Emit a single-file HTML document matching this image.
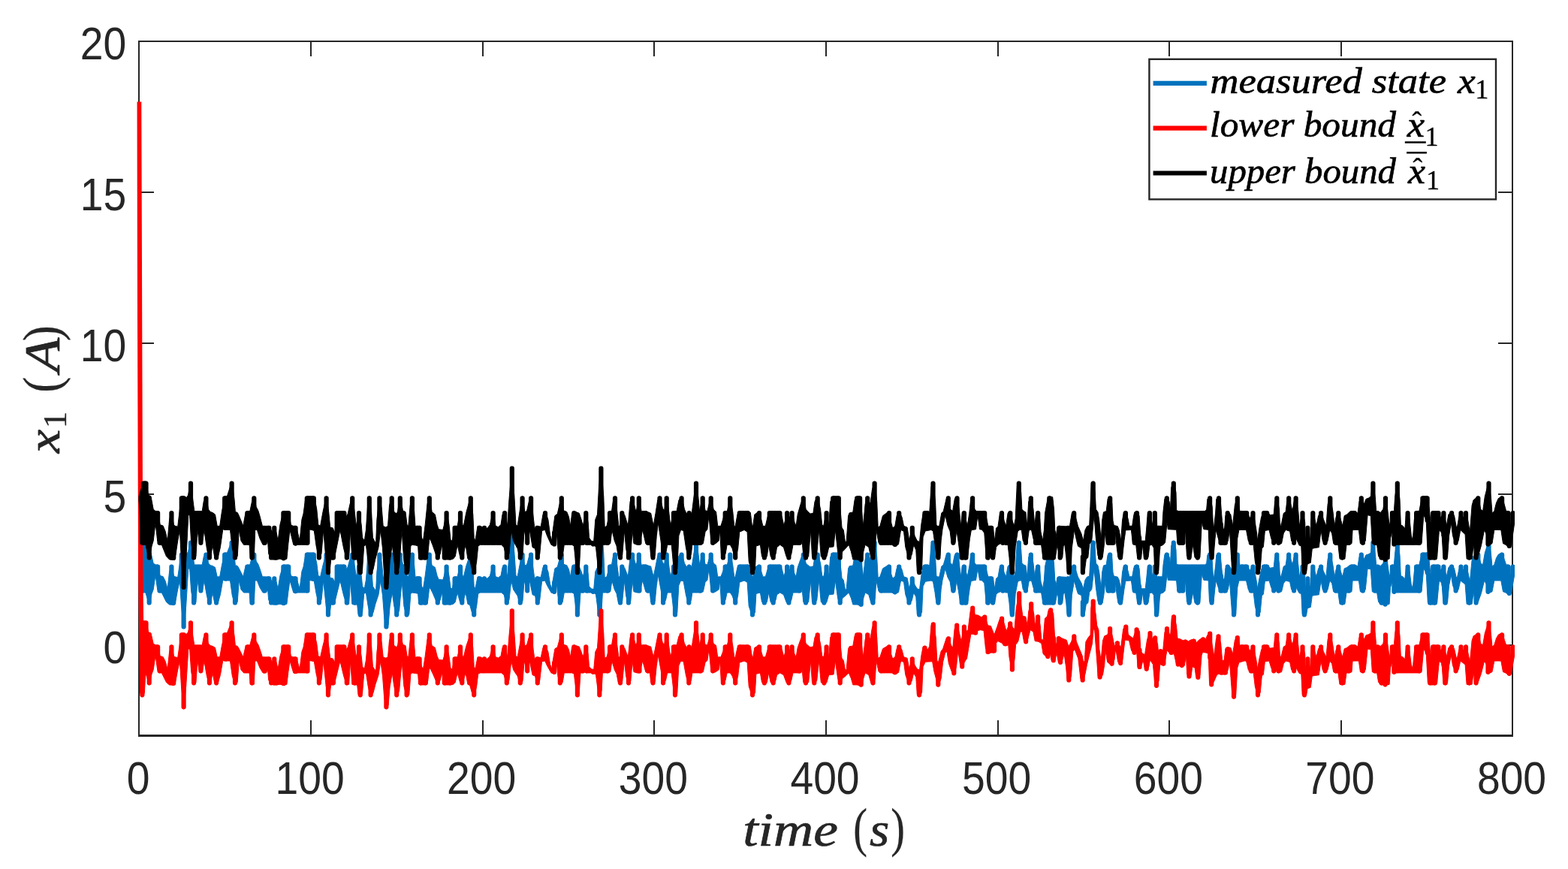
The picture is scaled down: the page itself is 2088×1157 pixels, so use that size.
<!DOCTYPE html>
<html><head><meta charset="utf-8"><title>plot</title>
<style>html,body{margin:0;padding:0;background:#fff;overflow:hidden}svg{display:block}</style></head>
<body>
<svg width="2088" height="1157" viewBox="0 0 2088 1157">
<rect x="0" y="0" width="2088" height="1157" fill="#ffffff"/>
<defs><clipPath id="axclip"><rect x="182.5" y="55.0" width="1834.5" height="924.5"/></clipPath></defs>
<g fill="#262626" shape-rendering="crispEdges">
<rect x="184" y="54" width="1831" height="2"/>
<rect x="184" y="978" width="1831" height="3"/>
<rect x="184" y="54" width="2" height="927"/>
<rect x="2013" y="54" width="2" height="927"/>
<rect x="413" y="959" width="2" height="20"/>
<rect x="413" y="55" width="2" height="20"/>
<rect x="642" y="959" width="2" height="20"/>
<rect x="642" y="55" width="2" height="20"/>
<rect x="870" y="959" width="2" height="20"/>
<rect x="870" y="55" width="2" height="20"/>
<rect x="1099" y="959" width="2" height="20"/>
<rect x="1099" y="55" width="2" height="20"/>
<rect x="1328" y="959" width="2" height="20"/>
<rect x="1328" y="55" width="2" height="20"/>
<rect x="1556" y="959" width="2" height="20"/>
<rect x="1556" y="55" width="2" height="20"/>
<rect x="1785" y="959" width="2" height="20"/>
<rect x="1785" y="55" width="2" height="20"/>
<rect x="185" y="858" width="20" height="2"/>
<rect x="1995" y="858" width="19" height="2"/>
<rect x="185" y="657" width="20" height="2"/>
<rect x="1995" y="657" width="19" height="2"/>
<rect x="185" y="456" width="20" height="2"/>
<rect x="1995" y="456" width="19" height="2"/>
<rect x="185" y="255" width="20" height="2"/>
<rect x="1995" y="255" width="19" height="2"/>
</g>
<g clip-path="url(#axclip)">
<polygon points="185.0,735.9 191.1,719.9 194.5,719.9 197.7,734.7 201.0,735.8 204.2,749.9 207.0,751.9 210.1,751.9 213.2,766.5 217.1,767.6 220.1,773.4 223.1,783.8 225.6,761.0 228.4,751.9 231.4,766.5 233.2,767.8 236.7,768.6 239.4,749.9 241.8,735.9 245.0,735.9 247.7,738.2 250.5,734.7 254.0,719.9 256.7,738.9 258.8,751.9 261.6,751.9 265.0,751.9 266.4,751.9 269.2,752.0 271.2,741.6 274.4,735.9 277.5,749.9 280.2,752.7 283.0,753.4 286.5,755.5 289.2,767.9 292.7,767.8 295.4,752.7 299.2,735.9 302.4,735.9 305.1,729.2 308.6,719.9 312.0,738.9 313.4,752.7 316.2,753.4 318.3,756.9 323.8,767.8 326.6,755.5 329.3,751.9 332.8,751.9 335.5,741.6 338.3,735.9 341.1,747.2 343.8,751.3 345.9,756.9 349.4,767.8 354.2,767.9 358.3,767.8 361.1,772.1 362.5,774.8 365.3,767.8 368.0,774.8 370.1,783.8 372.9,766.5 377.4,751.9 380.2,751.9 384.2,751.9 387.4,766.5 390.1,767.8 393.6,767.8 396.4,774.8 399.1,783.8 401.9,761.0 404.0,754.8 406.7,738.9 408.8,735.9 413.0,735.9 417.8,735.9 419.0,737.8 421.8,749.9 423.8,766.5 426.6,767.8 430.0,752.7 434.6,735.9 437.7,752.7 439.7,769.3 443.2,770.0 445.7,774.8 448.7,751.9 458.4,751.9 460.0,759.6 463.2,754.8 466.0,744.4 469.2,735.9 472.2,752.7 474.3,767.8 478.0,751.9 481.2,766.5 482.6,780.4 485.3,783.8 487.4,772.1 489.5,747.2 491.8,735.9 494.6,752.7 496.4,780.4 498.5,783.8 500.6,786.6 501.9,761.0 505.4,735.9 508.4,749.9 510.2,767.9 513.7,769.3 516.5,767.8 518.5,745.8 521.7,735.9 524.8,752.7 528.2,754.8 529.6,751.9 532.8,735.9 536.5,751.3 540.0,752.7 542.0,766.5 543.8,767.8 546.2,745.8 548.9,735.9 551.7,752.7 553.1,769.3 555.2,767.8 558.6,767.8 561.4,780.4 563.5,783.8 566.2,766.5 569.0,744.4 571.8,735.9 575.2,752.7 579.4,755.5 582.1,766.5 584.2,771.4 589.7,772.1 591.1,767.8 594.6,751.9 598.0,766.5 600.1,783.1 602.2,783.8 605.6,767.8 609.1,767.8 613.0,751.9 616.0,766.5 617.4,767.8 620.8,753.4 626.8,735.9 629.8,755.5 631.2,780.4 632.9,783.8 636.0,767.9 638.8,767.8 642.3,769.3 645.0,767.8 647.8,770.7 650.0,769.3 652.4,766.5 656.6,751.9 660.0,767.8 663.5,769.0 667.0,766.5 669.0,755.5 672.1,751.9 675.7,767.8 678.0,738.9 681.8,703.9 684.9,736.1 687.0,766.5 689.1,767.8 692.5,749.9 695.6,735.9 698.8,752.7 701.5,751.9 704.3,741.6 707.1,735.9 709.8,755.5 711.9,770.7 715.3,767.8 720.2,768.6 723.0,755.5 726.0,751.9 729.9,761.0 732.6,777.6 734.7,783.8 736.8,769.3 738.9,756.9 742.3,754.8 745.1,744.4 747.8,735.9 750.6,751.3 754.8,752.7 757.5,758.2 759.6,767.8 761.7,754.1 764.4,751.9 771.3,754.1 774.1,761.0 776.2,767.8 780.3,751.9 783.1,763.8 784.5,780.4 787.2,783.8 790.7,784.5 792.8,761.0 795.5,755.5 797.6,725.1 800.4,703.9 803.8,736.1 805.2,769.3 808.0,767.8 812.1,751.9 814.5,751.9 816.3,741.6 819.0,735.9 821.8,752.7 823.9,767.9 825.3,767.8 828.3,751.9 832.2,756.9 836.3,767.8 839.1,741.6 842.1,735.9 846.0,749.9 847.4,751.9 850.8,735.9 854.3,752.7 856.4,751.9 859.8,751.9 866.7,754.1 870.2,767.8 873.0,754.1 875.7,740.3 878.5,735.9 882.4,748.6 884.5,751.9 887.7,735.9 890.7,752.7 892.8,767.8 897.0,751.9 901.1,751.9 903.9,740.3 907.6,735.9 911.5,749.9 914.2,754.8 917.7,751.9 921.2,754.8 923.6,738.9 927.0,719.9 930.1,738.9 931.5,751.9 935.7,735.9 939.1,751.3 941.9,751.9 946.7,735.9 950.2,749.9 953.6,752.7 955.7,767.9 959.9,767.8 962.6,761.0 965.7,751.9 968.4,751.9 972.3,735.9 975.8,752.7 977.8,768.6 979.2,767.8 982.0,755.5 984.8,751.9 991.7,751.9 995.8,751.9 999.3,753.4 1001.3,766.5 1002.7,767.8 1004.8,755.5 1011.0,751.9 1013.8,761.0 1015.9,767.9 1019.3,767.8 1022.1,758.2 1024.8,751.9 1028.0,751.9 1031.1,751.9 1034.5,751.9 1038.4,751.9 1041.4,758.2 1043.9,767.8 1048.1,751.9 1051.1,759.6 1054.6,751.9 1058.0,763.8 1060.1,767.8 1062.2,755.5 1065.6,745.8 1069.8,735.9 1073.2,749.9 1075.3,751.9 1078.8,754.8 1082.9,754.1 1085.0,741.6 1088.7,735.9 1092.6,749.9 1094.7,766.5 1096.7,767.8 1100.6,751.9 1103.7,767.8 1105.7,741.6 1109.2,735.9 1113.2,735.9 1116.8,735.9 1119.4,753.8 1121.0,769.4 1123.3,772.5 1125.7,786.5 1127.2,783.8 1129.6,756.9 1131.1,753.8 1135.8,753.0 1138.1,739.8 1141.2,735.9 1145.1,735.9 1147.4,750.7 1149.5,767.8 1152.1,744.5 1155.2,735.9 1158.8,744.5 1161.4,728.9 1164.6,719.9 1167.7,741.4 1169.2,769.4 1171.9,767.8 1175.5,756.9 1179.3,754.6 1184.0,751.9 1186.3,763.1 1188.7,770.1 1191.8,767.8 1194.1,756.9 1197.2,751.9 1201.1,758.5 1203.5,767.8 1208.1,769.4 1210.8,783.8 1214.8,767.8 1218.2,778.7 1221.3,783.8 1224.5,784.9 1226.8,766.3 1229.1,754.6 1231.5,751.9 1235.0,751.9 1237.7,753.8 1240.0,725.8 1242.5,719.9 1245.6,741.8 1246.9,767.1 1248.5,767.8 1250.7,768.2 1253.8,754.0 1256.3,752.0 1260.1,738.8 1262.8,735.9 1265.7,749.9 1268.6,751.9 1271.3,738.8 1274.5,735.9 1277.3,749.9 1279.5,767.8 1281.4,753.0 1283.9,751.9 1286.6,762.1 1288.2,767.8 1290.8,754.0 1292.6,739.8 1295.1,735.9 1297.9,749.9 1300.2,751.9 1305.2,751.9 1307.7,751.9 1311.2,751.9 1313.9,760.1 1315.8,767.8 1318.3,767.8 1320.2,767.8 1322.7,772.2 1324.6,783.8 1326.5,770.2 1329.0,768.2 1331.5,754.0 1334.0,751.9 1337.1,762.1 1339.6,767.8 1342.1,754.0 1345.3,751.9 1348.0,762.1 1350.3,767.8 1352.2,760.1 1353.4,737.8 1354.7,721.6 1356.8,719.9 1359.7,731.7 1360.9,749.9 1363.4,752.0 1365.9,753.0 1367.8,767.8 1369.7,741.8 1372.8,735.9 1376.0,749.9 1377.8,767.8 1379.7,753.0 1382.2,751.9 1384.7,760.1 1386.0,774.2 1388.5,783.8 1390.4,772.2 1391.6,754.0 1394.8,739.8 1397.3,735.9 1401.7,736.8 1403.5,749.9 1404.8,772.2 1405.4,783.8 1407.9,769.2 1410.4,767.8 1420.5,768.4 1422.3,767.8 1424.2,769.2 1427.3,754.0 1430.2,751.9 1433.6,762.1 1435.5,768.2 1440.0,776.3 1442.5,783.8 1445.0,772.2 1447.5,768.2 1450.7,767.1 1451.9,746.9 1453.2,721.6 1455.7,719.9 1458.2,731.7 1459.4,749.9 1462.0,753.0 1463.8,762.1 1466.3,783.8 1467.6,762.1 1469.5,753.0 1473.2,752.0 1475.1,738.8 1478.2,735.9 1480.8,743.9 1482.0,762.1 1483.3,767.1 1488.3,768.2 1490.2,772.2 1492.7,783.8 1494.5,762.1 1496.4,753.0 1498.9,751.9 1502.1,760.1 1503.9,767.8 1507.7,767.8 1509.6,757.0 1510.8,753.0 1514.0,751.9 1517.1,757.0 1518.3,772.2 1519.6,783.8 1525.2,783.8 1526.5,772.2 1528.4,754.0 1530.9,751.9 1534.0,767.8 1537.8,751.9 1540.3,757.0 1540.9,772.2 1542.2,767.8 1544.7,767.8 1547.8,767.8 1549.0,752.0 1550.9,738.8 1553.8,735.9 1557.2,741.8 1558.4,751.9 1559.7,726.7 1562.8,719.9 1566.0,731.7 1566.6,751.0 1569.1,751.9 1580.4,751.9 1582.3,751.9 1585.4,751.9 1591.7,751.9 1594.2,751.9 1596.7,751.9 1604.8,751.9 1606.7,749.9 1607.9,738.8 1611.1,735.9 1614.2,746.9 1615.5,768.2 1616.7,767.8 1618.6,754.0 1619.8,738.8 1623.0,735.9 1625.5,743.9 1627.4,762.1 1630.0,776.3 1631.9,756.9 1634.7,751.9 1638.8,755.5 1641.6,767.8 1644.3,745.8 1647.8,735.9 1651.2,752.7 1653.3,751.9 1656.8,751.9 1660.2,751.9 1664.4,759.6 1668.5,751.9 1671.3,763.8 1673.4,774.8 1674.5,783.8 1676.8,770.7 1679.6,758.2 1683.0,751.9 1687.2,751.9 1691.3,756.2 1696.2,755.5 1697.6,741.6 1700.3,735.9 1703.5,749.9 1704.5,767.9 1705.9,767.8 1709.3,754.1 1712.1,752.7 1713.5,743.0 1716.2,735.9 1721.1,751.9 1723.1,741.6 1725.6,735.9 1728.9,752.7 1730.3,767.8 1734.5,751.9 1737.7,763.8 1738.3,783.8 1741.4,767.8 1744.6,783.8 1746.0,761.0 1748.3,751.9 1752.9,767.8 1755.6,756.9 1759.1,751.9 1762.5,761.0 1766.0,767.8 1768.1,744.4 1771.3,735.9 1775.0,752.7 1777.1,767.8 1779.1,758.2 1782.3,751.9 1785.4,761.0 1787.8,767.8 1790.2,756.9 1793.7,755.5 1797.1,752.7 1800.0,751.9 1803.8,751.9 1808.0,754.1 1810.0,741.6 1812.8,735.9 1816.3,744.4 1819.0,738.9 1822.5,737.8 1825.3,736.1 1828.4,719.9 1831.5,738.9 1832.9,755.5 1834.2,751.9 1838.4,753.4 1841.8,749.9 1845.0,735.9 1848.1,752.7 1850.1,767.8 1853.9,751.9 1856.4,751.9 1857.7,736.1 1860.8,719.9 1864.0,738.9 1865.3,766.5 1868.1,767.8 1870.9,770.7 1872.3,756.9 1874.6,751.9 1877.1,761.0 1879.2,777.6 1881.2,783.8 1883.3,761.0 1886.1,751.9 1889.8,751.9 1892.3,741.6 1894.4,735.9 1900.6,735.9 1903.4,749.9 1905.4,767.8 1908.2,751.9 1911.7,751.9 1915.5,751.9 1918.6,759.6 1922.4,751.9 1926.2,767.8 1928.9,755.5 1933.1,751.9 1936.6,756.9 1939.3,769.3 1940.7,767.8 1942.8,758.2 1945.5,751.9 1948.3,759.6 1952.0,751.9 1955.2,763.8 1957.3,774.8 1960.1,745.8 1962.1,740.0 1968.3,735.9 1971.8,749.9 1974.6,751.9 1977.3,736.1 1982.5,719.9 1985.6,738.9 1987.0,754.1 1989.8,751.9 1992.5,743.0 1995.3,738.2 2000.1,735.9 2003.6,745.8 2005.7,751.9 2008.4,751.9 2011.2,767.8 2014.7,751.9 2016.7,758.9 2016.7,765.5 2012.6,789.0 2009.8,792.5 2005.0,789.0 2001.5,787.7 1998.8,773.0 1994.6,773.0 1989.8,773.0 1987.0,787.7 1984.2,789.0 1981.5,790.4 1980.1,779.4 1976.6,773.0 1972.5,789.7 1968.3,801.5 1965.6,805.0 1962.1,789.0 1960.1,804.2 1956.6,805.0 1953.1,804.2 1951.1,778.0 1944.8,773.0 1942.1,784.9 1938.6,789.0 1934.5,779.4 1932.4,765.5 1929.6,779.4 1927.6,801.5 1924.8,805.0 1922.0,804.2 1920.0,776.6 1916.5,773.0 1913.7,801.5 1911.0,805.0 1906.8,805.0 1904.1,805.0 1901.3,801.5 1899.2,762.8 1895.8,757.1 1893.0,787.7 1890.2,789.0 1885.4,789.0 1877.1,789.0 1870.2,789.0 1866.0,789.0 1863.3,789.0 1861.2,789.0 1858.4,789.0 1856.4,790.4 1854.3,773.0 1851.5,782.1 1850.1,804.2 1847.0,805.0 1844.6,807.0 1842.5,805.0 1839.5,805.0 1835.6,801.5 1833.6,789.0 1830.8,789.0 1827.3,787.7 1825.3,757.9 1821.1,757.1 1818.3,784.9 1814.9,789.0 1811.4,787.7 1809.4,773.0 1806.6,773.0 1801.1,773.0 1800.0,787.7 1796.4,789.0 1793.0,789.0 1790.9,804.2 1787.4,805.0 1784.0,804.2 1781.9,789.0 1778.7,789.0 1775.7,787.7 1773.6,776.6 1770.8,773.0 1768.1,784.9 1764.6,789.0 1761.2,784.9 1759.1,773.0 1756.3,791.8 1750.8,792.5 1747.3,793.2 1745.3,808.4 1741.1,809.8 1739.7,818.1 1737.0,821.0 1734.2,818.1 1732.8,790.4 1730.1,789.7 1725.9,782.1 1723.1,789.0 1719.7,784.9 1717.6,774.5 1712.1,773.0 1709.3,776.6 1706.6,787.7 1702.4,789.0 1698.5,782.1 1696.2,789.0 1692.7,782.1 1690.0,773.0 1684.4,773.8 1682.4,791.1 1680.3,793.2 1678.2,815.3 1675.0,821.0 1671.3,807.0 1669.2,789.0 1665.8,789.0 1662.3,784.9 1659.5,773.0 1656.8,773.0 1649.9,773.0 1647.8,782.1 1645.7,818.1 1643.0,821.0 1640.9,818.1 1639.5,801.5 1637.4,773.0 1635.3,784.9 1631.9,789.0 1630.0,789.0 1625.5,789.0 1622.4,782.5 1619.2,773.0 1618.0,782.5 1616.1,800.7 1613.6,805.0 1610.5,800.7 1609.2,772.9 1602.9,772.4 1600.4,764.3 1597.9,802.8 1594.8,805.0 1591.0,802.8 1588.5,789.0 1586.0,802.8 1583.5,805.0 1580.4,800.7 1578.5,773.0 1575.4,789.0 1570.4,789.0 1567.8,786.6 1566.6,772.9 1555.3,772.4 1554.1,764.3 1551.6,786.6 1549.0,789.1 1544.7,790.6 1542.8,816.9 1540.0,821.0 1537.8,818.0 1536.5,792.6 1534.0,789.0 1530.9,789.6 1529.0,802.8 1525.9,805.0 1523.4,802.8 1521.5,789.0 1519.6,802.8 1517.1,805.0 1514.6,802.8 1512.7,789.0 1510.8,789.0 1508.3,786.6 1506.4,773.0 1498.9,773.4 1497.0,784.5 1494.5,802.8 1492.0,805.0 1488.9,802.8 1487.0,790.6 1485.1,773.0 1482.6,789.0 1475.7,789.0 1473.2,786.6 1472.0,773.0 1470.1,790.6 1468.2,802.8 1465.1,805.0 1462.0,800.7 1459.4,782.5 1456.9,757.1 1453.8,784.5 1450.7,788.6 1448.8,802.8 1446.3,804.8 1444.4,816.9 1441.9,821.0 1440.0,792.6 1435.5,790.6 1433.6,784.5 1430.5,773.0 1427.3,792.6 1426.1,816.9 1423.6,821.0 1421.1,818.0 1419.8,802.8 1417.9,789.0 1416.1,790.6 1414.8,802.8 1411.7,805.0 1407.9,789.0 1405.4,802.8 1402.9,805.0 1396.6,805.0 1391.0,805.0 1388.5,800.7 1386.6,789.0 1384.1,789.0 1379.1,789.0 1376.0,782.5 1373.5,773.0 1370.3,773.4 1368.4,784.5 1365.9,789.0 1362.2,784.5 1360.3,773.0 1357.8,773.0 1355.3,774.4 1352.2,790.6 1350.3,816.9 1347.8,821.0 1345.3,818.0 1344.0,802.8 1342.1,789.0 1339.6,789.0 1337.1,788.6 1335.2,789.0 1332.7,787.6 1329.0,789.1 1326.5,791.6 1324.6,802.8 1322.1,805.0 1319.6,797.7 1317.7,804.8 1315.2,805.0 1312.7,796.7 1310.8,776.4 1307.7,772.9 1304.5,772.4 1302.0,757.1 1299.5,772.4 1296.4,772.9 1293.3,773.4 1291.4,782.5 1288.9,800.7 1286.4,805.0 1283.9,805.0 1280.7,805.0 1278.8,802.8 1276.3,786.6 1273.8,773.0 1272.0,786.6 1269.4,789.0 1266.9,786.6 1265.1,774.4 1261.9,768.4 1258.8,757.1 1255.0,772.4 1253.2,784.5 1251.9,800.7 1249.4,805.0 1246.9,802.8 1245.0,788.6 1242.5,774.4 1240.0,773.0 1232.2,774.3 1229.1,780.8 1227.6,815.0 1224.1,821.0 1221.3,818.1 1219.8,794.8 1216.7,789.0 1214.3,799.5 1210.5,805.0 1205.8,791.7 1203.5,774.6 1199.6,773.0 1196.5,788.6 1191.8,790.9 1187.4,789.0 1184.8,789.0 1180.9,789.0 1177.0,789.0 1173.1,789.0 1170.0,787.0 1166.9,773.0 1165.3,796.4 1162.5,805.0 1159.9,802.6 1156.8,791.7 1152.1,789.0 1149.8,796.4 1146.7,807.3 1142.0,805.0 1135.8,804.9 1133.4,796.4 1130.3,789.0 1124.9,794.0 1121.8,796.4 1118.7,805.0 1115.6,796.4 1112.4,773.0 1110.0,791.1 1103.7,791.8 1100.9,801.5 1097.4,805.0 1093.3,801.5 1090.5,773.0 1087.8,798.7 1084.3,805.0 1081.5,801.5 1079.5,773.0 1076.7,801.5 1073.0,805.0 1069.8,801.5 1067.0,773.0 1064.9,789.0 1060.1,789.0 1056.0,789.0 1053.9,798.7 1050.4,805.0 1047.0,801.5 1043.5,791.8 1038.7,789.0 1034.5,791.8 1033.1,798.7 1029.7,805.0 1026.2,801.5 1023.5,789.0 1021.4,801.5 1017.9,805.0 1014.5,801.5 1012.4,789.0 1006.9,790.4 1005.5,815.3 1002.0,821.0 997.2,807.0 995.1,775.2 991.0,773.0 988.9,773.8 984.8,775.2 982.7,793.2 979.2,805.0 975.1,793.2 972.3,789.0 968.2,789.0 966.1,798.7 962.9,805.0 960.6,801.5 958.5,773.1 957.1,784.9 953.0,787.7 949.1,789.0 946.7,784.9 944.0,757.1 941.9,772.4 939.1,775.2 936.4,787.7 932.9,789.0 925.3,789.0 921.8,789.0 920.5,798.7 917.3,805.0 913.6,793.2 910.1,773.8 906.6,773.0 903.9,779.4 901.8,815.3 899.0,821.0 896.3,807.0 894.2,789.0 890.7,789.0 888.7,789.0 886.6,798.7 883.1,805.0 880.0,784.9 876.4,765.5 874.3,779.4 872.3,800.1 869.5,805.0 866.7,801.5 865.4,789.0 862.6,789.0 859.8,787.7 855.7,773.0 851.5,789.0 848.1,789.0 843.9,787.7 842.1,773.0 839.8,800.1 837.0,805.0 833.6,793.2 831.5,773.0 828.7,800.1 826.0,805.0 823.2,801.5 821.1,790.4 818.3,784.9 814.9,773.0 812.8,787.7 809.4,789.0 806.6,789.0 805.2,789.0 802.4,789.0 801.1,812.5 798.3,821.0 795.5,807.0 793.5,791.8 791.4,789.0 790.0,790.4 786.6,789.0 781.0,789.0 779.6,787.7 776.2,789.0 773.0,789.0 771.3,815.3 768.9,821.0 766.5,807.0 764.4,790.4 761.7,789.0 757.5,789.0 754.8,789.0 751.3,789.0 749.2,801.5 745.8,805.0 743.0,793.2 740.9,773.0 738.2,790.4 734.0,789.0 728.5,779.4 725.7,773.0 721.6,773.8 718.8,798.7 715.8,805.0 712.6,793.2 709.1,791.8 705.3,773.0 702.2,789.0 698.1,773.0 696.0,800.1 692.8,805.0 689.1,793.2 686.3,789.0 683.6,784.9 680.8,773.0 678.0,798.7 674.8,805.0 671.1,791.8 667.7,789.0 660.7,789.0 653.8,789.0 650.0,789.0 647.1,789.0 643.7,789.0 639.5,789.0 636.7,790.4 634.7,807.0 631.2,821.0 628.4,815.3 625.7,805.6 622.9,804.2 620.1,789.0 618.8,793.2 615.3,805.0 612.5,801.5 609.1,789.0 606.3,801.5 603.6,804.2 599.4,805.0 595.3,805.0 591.8,805.0 588.3,789.0 586.3,798.7 582.8,805.0 580.1,798.7 575.9,789.0 573.8,784.9 571.8,782.1 569.7,800.1 566.9,805.0 563.5,805.0 560.0,805.0 557.9,804.2 556.6,790.4 553.8,789.7 548.9,789.0 546.9,790.4 544.8,818.1 541.6,821.0 537.9,807.0 535.1,773.0 531.7,812.5 528.2,821.0 524.8,807.0 522.3,789.0 519.2,807.0 517.1,831.9 514.4,837.0 511.6,820.8 509.5,793.2 506.8,773.0 504.0,791.8 499.9,804.2 497.1,815.3 493.6,821.0 490.2,807.0 487.4,789.0 484.7,790.4 482.6,815.3 479.8,821.0 477.1,818.1 475.7,805.0 472.2,805.0 468.8,804.2 466.7,773.0 464.6,804.2 461.8,805.0 457.7,793.2 452.9,773.0 446.6,798.7 443.9,805.0 440.7,805.0 439.3,815.3 437.0,821.0 434.2,807.0 430.7,773.0 428.0,798.7 424.9,805.0 421.1,790.4 418.3,773.8 415.0,773.0 410.9,772.4 409.5,789.0 406.0,789.0 401.2,789.0 395.7,789.0 393.6,789.7 390.8,789.0 386.0,773.0 383.9,787.7 381.9,804.2 379.5,805.0 377.7,805.6 375.6,805.0 372.9,804.2 368.0,805.0 364.6,805.0 363.2,802.9 361.1,805.0 357.7,798.7 355.6,773.1 352.8,789.0 350.1,789.0 345.9,782.1 342.4,773.0 339.7,773.0 338.3,804.2 335.5,805.0 333.5,804.2 332.1,789.0 328.6,789.0 324.5,789.0 321.0,784.9 318.3,773.0 316.2,801.5 313.0,805.0 309.3,793.2 306.5,773.0 303.7,773.0 300.3,773.0 296.8,772.4 293.4,791.8 290.6,801.5 288.1,805.0 285.8,802.9 283.0,789.0 280.9,801.5 278.9,805.0 275.4,793.2 271.9,773.0 269.9,784.9 267.4,789.0 265.0,784.9 263.0,773.0 260.9,801.5 258.1,805.0 254.7,787.7 252.6,757.1 250.8,757.1 247.7,807.0 244.6,837.0 241.5,807.0 239.4,773.0 236.7,784.9 233.9,800.1 231.2,805.4 225.6,805.0 221.5,801.5 215.3,789.0 212.5,789.0 209.7,784.9 207.0,765.5 204.2,784.9 202.1,790.4 198.7,805.0 193.8,789.0 192.4,789.0 189.4,789.0 185.0,741.1" fill="#0072BD" stroke="#0072BD" stroke-width="1.0" stroke-linejoin="round"/><path d="M191.1 722.5V754.5M194.5 722.5V755.6M210.1 754.5V768.7M228.4 754.5V778.5M241.8 738.5V772.8M245.0 738.5V784.5M254.0 722.5V748.7M274.4 738.5V761.7M299.2 738.5V754.4M308.6 722.5V754.0M329.3 754.5V770.4M338.3 738.5V770.1M358.3 770.4V783.9M365.3 770.4V786.4M377.4 754.5V778.7M384.2 754.5V768.8M393.6 770.4V778.8M408.8 738.5V762.5M417.8 738.5V754.8M434.6 738.5V772.5M448.7 754.5V771.0M458.4 754.5V773.5M469.2 738.5V770.1M478.0 754.5V785.5M491.8 738.5V774.8M505.4 738.5V759.1M521.7 738.5V764.1M532.8 738.5V767.9M548.9 738.5V762.4M555.2 770.4V779.0M558.6 770.4V786.2M571.8 738.5V759.0M594.6 754.5V778.4M605.6 770.4V785.0M613.0 754.5V776.9M626.8 738.5V772.7M638.8 770.4V778.6M645.0 770.4V778.4M656.6 754.5V770.4M672.1 754.5V773.5M681.8 706.5V740.5M695.6 738.5V768.3M707.1 738.5V758.8M715.3 770.4V785.6M726.0 754.5V762.8M747.8 738.5V769.4M764.4 754.5V771.1M780.3 754.5V770.1M800.4 706.5V759.3M812.1 754.5V769.9M819.0 738.5V761.1M828.3 754.5V776.3M842.1 738.5V754.5M850.8 738.5V762.5M856.4 754.5V763.7M859.8 754.5V769.8M878.5 738.5V756.3M887.7 738.5V764.7M897.0 754.5V781.2M907.6 738.5V754.6M917.7 754.5V778.0M927.0 722.5V754.5M935.7 738.5V761.9M946.7 738.5V760.4M965.7 754.5V775.7M972.3 738.5V762.4M984.8 754.5V763.5M995.8 754.5V768.8M1011.0 754.5V770.6M1024.8 754.5V773.6M1038.4 754.5V770.5M1048.1 754.5V777.2M1054.6 754.5V773.7M1069.8 738.5V768.7M1088.7 738.5V762.8M1100.6 754.5V776.8M1109.2 738.5V763.5M1116.8 738.5V767.8M1141.2 738.5V770.4M1145.1 738.5V771.2M1155.2 738.5V763.3M1164.6 722.5V759.3M1184.0 754.5V770.4M1197.2 754.5V768.3M1214.8 770.4V782.6M1231.5 754.5V763.9M1235.0 754.5V762.8M1242.5 722.5V747.2M1262.8 738.5V753.0M1274.5 738.5V756.1M1283.9 754.5V778.4M1295.1 738.5V754.5M1311.2 754.5V766.2M1320.2 770.4V783.7M1334.0 754.5V770.1M1345.3 754.5V784.9M1356.8 722.5V746.7M1372.8 738.5V754.5M1382.2 754.5V770.4M1397.3 738.5V770.4M1410.4 770.4V783.8M1422.3 770.4V793.6M1430.2 754.5V763.2M1455.7 722.5V744.0M1478.2 738.5V762.4M1498.9 754.5V762.6M1514.0 754.5V775.0M1530.9 754.5V770.7M1537.8 754.5V784.9M1542.2 770.4V792.8M1553.8 738.5V751.2M1562.8 722.5V746.3M1611.1 738.5V768.7M1623.0 738.5V759.8M1634.7 754.5V768.8M1647.8 738.5V759.0M1653.3 754.5V762.4M1660.2 754.5V763.9M1668.5 754.5V770.4M1683.0 754.5V768.6M1687.2 754.5V762.6M1700.3 738.5V760.6M1716.2 738.5V755.0M1725.6 738.5V759.3M1734.5 754.5V785.1M1741.4 770.4V788.8M1748.3 754.5V772.4M1759.1 754.5V762.4M1771.3 738.5V754.7M1782.3 754.5V772.0M1800.0 754.5V769.8M1803.8 754.5V762.4M1812.8 738.5V762.0M1828.4 722.5V754.0M1834.2 754.5V772.5M1845.0 738.5V771.3M1853.9 754.5V763.1M1860.8 722.5V754.5M1874.6 754.5V770.4M1886.1 754.5V770.4M1894.4 738.5V754.1M1900.6 738.5V762.2M1908.2 754.5V778.4M1915.5 754.5V767.4M1922.4 754.5V778.1M1933.1 754.5V761.0M1945.5 754.5V762.7M1952.0 754.5V771.0M1968.3 738.5V768.7M1982.5 722.5V754.9M2000.1 738.5V758.1M2008.4 754.5V771.7M2014.7 754.5V764.6M189.4 786.4V756.6M198.7 802.4V770.0M212.5 786.4V776.1M231.2 802.8V785.3M244.6 834.4V786.4M258.1 802.4V776.3M267.4 786.4V770.5M278.9 802.4V778.2M288.1 802.4V784.0M300.3 770.4V754.5M313.0 802.4V776.8M335.5 802.4V773.3M352.8 786.4V778.5M361.1 802.4V788.5M364.6 802.4V787.3M368.0 802.4V789.9M377.7 803.0V778.7M393.6 787.1V778.8M409.5 786.4V762.5M424.9 802.4V786.0M437.0 818.4V784.9M443.9 802.4V788.2M461.8 802.4V780.9M472.2 802.4V778.9M479.8 818.4V790.6M493.6 818.4V783.9M514.4 834.4V802.9M528.2 818.4V787.9M541.6 818.4V792.4M560.0 802.4V789.5M566.9 802.4V783.0M582.8 802.4V786.6M591.8 802.4V784.8M599.4 802.4V791.3M615.3 802.4V784.1M631.2 818.4V800.7M674.8 802.4V784.6M692.8 802.4V776.8M702.2 786.4V769.2M715.8 802.4V786.4M738.2 787.8V775.7M745.8 802.4V773.6M768.9 818.4V787.1M776.2 786.4V778.4M781.0 786.4V771.9M790.0 787.8V787.4M798.3 818.4V770.4M809.4 786.4V775.8M826.0 802.4V784.6M837.0 802.4V783.1M851.5 786.4V764.1M862.6 786.4V770.9M869.5 802.4V785.0M883.1 802.4V777.3M899.0 818.4V786.4M917.3 802.4V778.6M932.9 786.4V767.8M949.1 786.4V767.2M962.9 802.4V782.6M979.2 802.4V786.4M1002.0 818.4V794.1M1017.9 802.4V786.4M1029.7 802.4V778.4M1050.4 802.4V781.4M1064.9 786.4V768.4M1073.0 802.4V776.9M1084.3 802.4V775.4M1097.4 802.4V785.0M1118.7 802.4V776.8M1146.7 804.7V776.5M1162.5 802.4V765.4M1173.1 786.4V776.5M1191.8 788.3V779.4M1210.5 802.4V793.6M1224.1 818.4V802.9M1249.4 802.4V786.5M1269.4 786.4V768.4M1280.7 802.4V781.5M1286.4 802.4V783.1M1315.2 802.4V785.1M1322.1 802.4V788.1M1335.2 786.4V772.5M1347.8 818.4V791.1M1365.9 786.4V771.0M1379.1 786.4V773.5M1391.0 802.4V784.0M1402.9 802.4V775.3M1411.7 802.4V786.4M1423.6 818.4V794.9M1441.9 818.4V801.5M1465.1 802.4V789.0M1475.7 786.4V763.6M1482.6 786.4V776.8M1492.0 802.4V793.0M1510.8 786.4V771.0M1517.1 802.4V781.0M1525.9 802.4V791.5M1540.0 818.4V788.7M1570.4 786.4V770.4M1575.4 786.4V770.4M1583.5 802.4V778.4M1594.8 802.4V778.4M1613.6 802.4V774.8M1625.5 786.4V766.4M1631.9 786.4V772.9M1643.0 818.4V788.9M1665.8 786.4V773.0M1675.0 818.4V800.9M1696.2 786.4V772.2M1702.4 786.4V767.0M1723.1 786.4V765.3M1737.0 818.4V791.1M1764.6 786.4V777.1M1778.7 786.4V774.6M1787.4 802.4V785.8M1796.4 786.4V771.1M1814.9 786.4V765.0M1830.8 786.4V761.8M1839.5 802.4V778.6M1844.6 804.4V772.4M1856.4 787.8V771.1M1890.2 786.4V769.6M1904.1 802.4V780.5M1911.0 802.4V778.4M1924.8 802.4V783.5M1938.6 786.4V777.6M1956.6 802.4V788.1M1965.6 802.4V771.3M1981.5 787.8V756.7M2009.8 789.9V776.2" fill="none" stroke="#0072BD" stroke-width="6.2" stroke-linecap="round"/>
<polygon points="191.1,826.8 194.5,826.8 197.7,841.7 201.0,842.8 204.2,856.9 207.0,858.8 210.1,858.8 213.2,873.5 217.1,874.6 220.1,880.4 223.1,890.7 225.6,867.9 228.4,858.8 231.4,873.5 233.2,874.8 236.7,875.5 239.4,856.9 241.8,842.8 245.0,842.8 247.7,845.1 250.5,841.7 254.0,826.8 256.7,845.8 258.8,858.8 261.6,858.8 265.0,858.8 266.4,858.8 269.2,858.9 271.2,848.6 274.4,842.8 277.5,856.9 280.2,859.6 283.0,860.3 286.5,862.4 289.2,874.8 292.7,874.8 295.4,859.6 299.2,842.8 302.4,842.8 305.1,836.1 308.6,826.8 312.0,845.8 313.4,859.6 316.2,860.3 318.3,863.8 323.8,874.8 326.6,862.4 329.3,858.8 332.8,858.8 335.5,848.6 338.3,842.8 341.1,854.1 343.8,858.2 345.9,863.8 349.4,874.8 354.2,874.8 358.3,874.8 361.1,879.0 362.5,881.7 365.3,874.8 368.0,881.7 370.1,890.7 372.9,873.5 377.4,858.8 380.2,858.8 384.2,858.8 387.4,873.5 390.1,874.8 393.6,874.8 396.4,881.7 399.1,890.7 401.9,867.9 404.0,861.7 406.7,845.8 408.8,842.8 413.0,842.8 417.8,842.8 419.0,844.7 421.8,856.9 423.8,873.5 426.6,874.8 430.0,859.6 434.6,842.8 437.7,859.6 439.7,876.2 443.2,876.9 445.7,881.7 448.7,858.8 458.4,858.8 460.0,866.5 463.2,861.7 466.0,851.3 469.2,842.8 472.2,859.6 474.3,874.8 478.0,858.8 481.2,873.5 482.6,887.3 485.3,890.7 487.4,879.0 489.5,854.1 491.8,842.8 494.6,859.6 496.4,887.3 498.5,890.7 500.6,893.5 501.9,867.9 505.4,842.8 508.4,856.9 510.2,874.8 513.7,876.2 516.5,874.8 518.5,852.7 521.7,842.8 524.8,859.6 528.2,861.7 529.6,858.8 532.8,842.8 536.5,858.2 540.0,859.6 542.0,873.5 543.8,874.8 546.2,852.7 548.9,842.8 551.7,859.6 553.1,876.2 555.2,874.8 558.6,874.8 561.4,887.3 563.5,890.7 566.2,873.5 569.0,851.3 571.8,842.8 575.2,859.6 579.4,862.4 582.1,873.5 584.2,878.3 589.7,879.0 591.1,874.8 594.6,858.8 598.0,873.5 600.1,890.0 602.2,890.7 605.6,874.8 609.1,874.8 613.0,858.8 616.0,873.5 617.4,874.8 620.8,860.3 626.8,842.8 629.8,862.4 631.2,887.3 632.9,890.7 636.0,874.8 638.8,874.8 642.3,876.2 645.0,874.8 647.8,877.6 650.0,876.2 652.4,873.5 656.6,858.8 660.0,874.8 663.5,875.9 667.0,873.5 669.0,862.4 672.1,858.8 675.7,874.8 678.0,845.8 681.8,810.8 684.9,843.0 687.0,873.5 689.1,874.8 692.5,856.9 695.6,842.8 698.8,859.6 701.5,858.8 704.3,848.6 707.1,842.8 709.8,862.4 711.9,877.6 715.3,874.8 720.2,875.5 723.0,862.4 726.0,858.8 729.9,867.9 732.6,884.5 734.7,890.7 736.8,876.2 738.9,863.8 742.3,861.7 745.1,851.3 747.8,842.8 750.6,858.2 754.8,859.6 757.5,865.2 759.6,874.8 761.7,861.0 764.4,858.8 771.3,861.0 774.1,867.9 776.2,874.8 780.3,858.8 783.1,870.7 784.5,887.3 787.2,890.7 790.7,891.4 792.8,867.9 795.5,862.4 797.6,832.0 800.4,810.8 803.8,843.0 805.2,876.2 808.0,874.8 812.1,858.8 814.5,858.8 816.3,848.6 819.0,842.8 821.8,859.6 823.9,874.8 825.3,874.8 828.3,858.8 832.2,863.8 836.3,874.8 839.1,848.6 842.1,842.8 846.0,856.9 847.4,858.8 850.8,842.8 854.3,859.6 856.4,858.8 859.8,858.8 866.7,861.0 870.2,874.8 873.0,861.0 875.7,847.2 878.5,842.8 882.4,855.5 884.5,858.8 887.7,842.8 890.7,859.6 892.8,874.8 897.0,858.8 901.1,858.8 903.9,847.2 907.6,842.8 911.5,856.9 914.2,861.7 917.7,858.8 921.2,861.7 923.6,845.8 927.0,826.8 930.1,845.8 931.5,858.8 935.7,842.8 939.1,858.2 941.9,858.8 946.7,842.8 950.2,856.9 953.6,859.6 955.7,874.8 959.9,874.8 962.6,867.9 965.7,858.8 968.4,858.8 972.3,842.8 975.8,859.6 977.8,875.5 979.2,874.8 982.0,862.4 984.8,858.8 991.7,858.8 995.8,858.8 999.3,860.3 1001.3,873.5 1002.7,874.8 1004.8,862.4 1011.0,858.8 1013.8,867.9 1015.9,874.8 1019.3,874.8 1022.1,865.2 1024.8,858.8 1028.0,858.8 1031.1,858.8 1034.5,858.8 1038.4,858.8 1041.4,865.2 1043.9,874.8 1048.1,858.8 1051.1,866.5 1054.6,858.8 1058.0,870.7 1060.1,874.8 1062.2,862.4 1065.6,852.7 1069.8,842.8 1073.2,856.9 1075.3,858.8 1078.8,861.7 1082.9,861.0 1085.0,848.6 1088.7,842.8 1092.6,856.9 1094.7,873.5 1096.7,874.8 1100.6,858.8 1103.7,874.8 1105.7,848.6 1109.2,842.8 1113.2,842.8 1116.8,842.8 1119.4,860.7 1121.0,876.3 1123.3,879.4 1125.7,893.4 1127.2,890.7 1129.6,863.8 1131.1,860.7 1135.8,860.0 1138.1,846.7 1141.2,842.8 1145.1,842.8 1147.4,857.6 1149.5,874.8 1152.1,851.4 1155.2,842.8 1158.8,851.4 1161.4,835.8 1164.6,826.8 1167.7,848.3 1169.2,876.3 1171.9,874.8 1175.5,863.8 1179.3,861.5 1184.0,858.8 1186.3,870.1 1188.7,877.1 1191.8,874.8 1194.1,863.8 1197.2,858.8 1201.1,865.4 1203.5,874.7 1208.1,876.3 1210.8,890.7 1214.8,874.8 1218.2,885.6 1221.3,890.7 1224.5,891.8 1226.8,873.2 1229.1,861.5 1231.5,860.0 1235.0,865.4 1237.7,860.7 1240.0,832.7 1242.8,828.8 1246.2,848.3 1247.8,879.4 1249.3,882.5 1253.2,867.0 1255.6,863.8 1260.2,849.8 1263.0,847.8 1266.5,859.2 1268.8,862.3 1271.1,837.4 1274.2,829.9 1278.1,845.2 1280.1,854.5 1283.9,831.9 1287.5,840.5 1289.0,839.0 1292.1,814.1 1295.2,807.1 1298.4,818.7 1302.2,819.0 1306.9,821.8 1311.3,819.0 1315.5,832.7 1319.4,833.5 1324.0,845.2 1327.9,834.3 1331.0,824.9 1334.1,821.1 1338.0,832.7 1340.0,840.5 1345.2,827.7 1348.7,835.8 1351.0,837.4 1353.3,809.4 1357.2,787.6 1360.3,809.4 1361.9,820.3 1365.8,821.1 1368.1,832.7 1369.7,814.1 1373.2,801.6 1376.7,817.2 1378.5,832.7 1382.1,818.7 1385.2,832.7 1386.8,851.4 1389.1,852.2 1391.4,823.4 1394.6,820.3 1396.1,812.5 1399.2,809.7 1402.8,817.2 1404.4,845.2 1406.2,859.2 1409.7,847.5 1414.0,849.8 1420.2,852.2 1423.0,860.7 1426.5,854.5 1430.3,844.7 1433.5,854.5 1437.3,863.8 1441.2,873.2 1442.8,882.5 1444.3,879.4 1445.9,854.5 1449.0,849.1 1452.1,845.2 1452.9,809.4 1455.7,798.0 1459.1,817.2 1460.7,832.7 1463.0,839.0 1463.8,863.8 1466.1,879.4 1468.5,853.0 1470.8,846.7 1474.7,845.2 1478.1,834.6 1481.7,848.3 1484.0,860.7 1487.9,853.7 1492.6,862.3 1495.7,837.4 1499.3,831.9 1502.7,845.2 1506.6,848.3 1508.9,849.8 1513.6,835.8 1517.5,840.5 1519.0,867.0 1521.4,870.1 1524.5,871.6 1527.6,851.4 1531.5,840.5 1534.6,851.4 1538.2,846.7 1541.6,857.6 1542.4,867.0 1545.5,864.6 1548.6,867.0 1550.9,842.1 1554.0,834.6 1557.1,843.6 1558.7,845.2 1560.2,823.4 1563.0,818.7 1566.5,832.7 1568.0,849.8 1570.0,850.6 1571.1,850.6 1575.2,852.7 1578.7,852.0 1582.1,854.1 1585.6,852.0 1589.7,851.1 1593.2,855.5 1596.6,852.0 1602.2,848.8 1604.9,852.7 1607.7,845.8 1611.2,841.0 1613.9,856.9 1616.7,873.5 1619.4,851.3 1622.5,844.7 1625.7,856.9 1627.7,880.4 1629.1,887.3 1631.9,863.8 1634.7,861.7 1638.8,862.4 1641.6,870.7 1644.3,852.7 1647.8,846.5 1651.2,859.6 1653.3,858.8 1656.8,858.8 1660.2,858.8 1664.4,866.5 1668.5,858.8 1671.3,870.7 1673.4,881.7 1674.5,890.7 1676.8,877.6 1679.6,865.2 1683.0,858.8 1687.2,858.8 1691.3,863.1 1696.2,862.4 1697.6,848.6 1700.3,842.8 1703.5,856.9 1704.5,874.8 1705.9,874.8 1709.3,861.0 1712.1,859.6 1713.5,849.9 1716.2,842.8 1721.1,858.8 1723.1,848.6 1725.6,842.8 1728.9,859.6 1730.3,874.8 1734.5,858.8 1737.7,870.7 1738.3,890.7 1741.4,874.8 1744.6,890.7 1746.0,867.9 1748.3,858.8 1752.9,874.8 1755.6,863.8 1759.1,858.8 1762.5,867.9 1766.0,874.8 1768.1,851.3 1771.3,842.8 1775.0,859.6 1777.1,874.8 1779.1,865.2 1782.3,858.8 1785.4,867.9 1787.8,874.8 1790.2,863.8 1793.7,862.4 1797.1,859.6 1800.0,858.8 1803.8,858.8 1808.0,861.0 1810.0,848.6 1812.8,842.8 1816.3,851.3 1819.0,845.8 1822.5,844.7 1825.3,843.0 1828.4,826.8 1831.5,845.8 1832.9,862.4 1834.2,858.8 1838.4,860.3 1841.8,856.9 1845.0,842.8 1848.1,859.6 1850.1,874.8 1853.9,858.8 1856.4,858.8 1857.7,843.0 1860.8,826.8 1864.0,845.8 1865.3,873.5 1868.1,874.8 1870.9,877.6 1872.3,863.8 1874.6,858.8 1877.1,867.9 1879.2,884.5 1881.2,890.7 1883.3,867.9 1886.1,858.8 1889.8,858.8 1892.3,848.6 1894.4,842.8 1900.6,842.8 1903.4,856.9 1905.4,874.8 1908.2,858.8 1911.7,858.8 1915.5,858.8 1918.6,866.5 1922.4,858.8 1926.2,874.8 1928.9,862.4 1933.1,858.8 1936.6,863.8 1939.3,876.2 1940.7,874.8 1942.8,865.2 1945.5,858.8 1948.3,866.5 1952.0,858.8 1955.2,870.7 1957.3,881.7 1960.1,852.7 1962.1,846.9 1968.3,842.8 1971.8,856.9 1974.6,858.8 1977.3,843.0 1982.5,826.8 1985.6,845.8 1987.0,861.0 1989.8,858.8 1992.5,849.9 1995.3,845.1 2000.1,842.8 2003.6,852.7 2005.7,858.8 2008.4,858.8 2011.2,874.8 2014.7,858.8 2016.7,865.8 2016.7,872.5 2012.6,896.0 2009.8,899.4 2005.0,895.9 2001.5,894.6 1998.8,880.0 1994.6,880.0 1989.8,880.0 1987.0,894.6 1984.2,895.9 1981.5,897.3 1980.1,886.3 1976.6,880.0 1972.5,896.6 1968.3,908.4 1965.6,911.9 1962.1,895.9 1960.1,911.2 1956.6,911.9 1953.1,911.2 1951.1,884.9 1944.8,880.0 1942.1,891.8 1938.6,895.9 1934.5,886.3 1932.4,872.5 1929.6,886.3 1927.6,908.4 1924.8,911.9 1922.0,911.2 1920.0,883.5 1916.5,880.0 1913.7,908.4 1911.0,911.9 1906.8,911.9 1904.1,911.9 1901.3,908.4 1899.2,869.7 1895.8,864.0 1893.0,894.6 1890.2,895.9 1885.4,895.9 1877.1,895.9 1870.2,895.9 1866.0,895.9 1863.3,895.9 1861.2,896.0 1858.4,895.9 1856.4,897.3 1854.3,880.0 1851.5,889.0 1850.1,911.2 1847.0,911.9 1844.6,913.9 1842.5,911.9 1839.5,911.9 1835.6,908.4 1833.6,895.9 1830.8,895.9 1827.3,894.6 1825.3,864.8 1821.1,864.0 1818.3,891.8 1814.9,895.9 1811.4,894.6 1809.4,880.0 1806.6,880.0 1801.1,880.0 1800.0,894.6 1796.4,895.9 1793.0,895.9 1790.9,911.2 1787.4,911.9 1784.0,911.2 1781.9,895.9 1778.7,895.9 1775.7,894.6 1773.6,883.5 1770.8,880.0 1768.1,891.8 1764.6,895.9 1761.2,891.8 1759.1,880.0 1756.3,898.7 1750.8,899.4 1747.3,900.1 1745.3,915.3 1741.1,916.7 1739.7,925.0 1737.0,927.9 1734.2,925.0 1732.8,897.3 1730.1,896.6 1725.9,889.0 1723.1,895.9 1719.7,891.8 1717.6,881.4 1712.1,880.0 1709.3,883.5 1706.6,894.6 1702.4,895.9 1698.5,889.0 1696.2,895.9 1692.7,889.0 1690.0,880.0 1684.4,880.7 1682.4,898.0 1680.3,900.1 1678.2,922.2 1675.0,927.9 1671.3,913.9 1669.2,895.9 1665.8,895.9 1662.3,891.8 1659.5,880.0 1656.8,880.0 1649.9,882.1 1647.8,889.0 1645.7,925.0 1643.0,930.2 1640.9,925.0 1639.5,908.4 1637.4,880.7 1635.3,891.8 1631.9,898.0 1626.4,898.0 1622.2,897.3 1620.1,899.4 1616.7,907.0 1613.2,913.9 1610.5,908.4 1609.1,869.7 1605.6,869.0 1601.5,868.3 1600.1,872.5 1598.0,898.7 1595.3,904.3 1592.5,900.1 1591.1,889.0 1587.7,887.7 1586.3,898.7 1583.5,903.1 1580.7,897.3 1579.4,872.5 1577.3,886.3 1573.8,888.4 1570.0,886.2 1568.8,887.0 1566.5,884.6 1563.4,870.6 1559.5,871.4 1554.0,866.0 1551.7,878.4 1549.4,886.2 1544.7,884.6 1543.1,906.4 1540.0,915.4 1537.7,909.5 1535.4,884.6 1531.5,878.4 1529.9,887.7 1526.8,893.2 1524.5,890.8 1522.1,878.4 1520.6,884.6 1517.5,890.5 1515.1,887.7 1513.6,867.5 1510.5,871.4 1506.6,866.0 1503.5,852.7 1498.0,852.0 1494.9,878.4 1492.1,885.4 1488.7,881.5 1485.6,863.1 1484.0,878.4 1480.6,886.2 1474.7,881.5 1471.9,866.0 1470.8,884.6 1468.5,898.6 1464.6,904.1 1462.2,900.2 1459.9,869.1 1457.6,838.0 1456.0,838.0 1454.5,856.6 1451.3,869.1 1447.5,884.6 1445.1,897.1 1441.7,908.0 1438.9,903.3 1435.8,876.8 1431.1,864.4 1428.8,867.5 1426.5,900.2 1423.3,908.0 1421.0,903.3 1419.5,887.7 1417.1,870.6 1414.8,878.4 1412.1,884.3 1409.3,881.5 1407.0,869.1 1405.5,876.8 1402.8,881.8 1400.0,878.4 1398.5,870.6 1395.3,876.5 1389.1,870.6 1386.8,856.6 1382.9,854.3 1378.2,853.5 1375.9,841.1 1372.0,838.7 1368.9,850.4 1366.1,856.9 1363.4,853.5 1361.1,841.1 1358.8,841.1 1355.7,854.3 1352.6,858.2 1351.0,878.4 1347.9,894.0 1344.0,875.3 1342.4,853.5 1340.0,859.7 1338.0,859.7 1333.4,855.8 1328.7,853.5 1326.4,856.6 1324.0,869.1 1319.4,869.1 1315.5,870.6 1312.4,862.8 1310.0,839.5 1305.4,838.7 1302.2,839.5 1299.1,845.0 1296.0,844.2 1292.9,844.2 1289.8,862.8 1287.5,876.8 1284.3,881.5 1281.2,890.1 1278.9,887.7 1275.8,866.0 1273.5,887.7 1270.3,898.9 1267.2,894.0 1263.3,883.1 1261.0,867.5 1258.7,869.1 1255.6,881.5 1253.2,903.3 1249.3,914.2 1243.9,894.0 1241.6,880.7 1232.2,881.2 1229.1,887.7 1227.6,922.0 1224.1,927.9 1221.3,925.1 1219.8,901.7 1216.7,895.9 1214.3,906.4 1210.5,911.9 1205.8,898.6 1203.5,881.5 1199.6,880.0 1196.5,895.5 1191.8,897.8 1187.4,895.9 1184.8,895.9 1180.9,895.9 1177.0,895.9 1173.1,895.9 1170.0,894.0 1166.9,880.0 1165.3,903.3 1162.5,911.9 1159.9,909.5 1156.8,898.6 1152.1,895.9 1149.8,903.3 1146.7,914.2 1142.0,911.9 1135.8,911.8 1133.4,903.3 1130.3,895.9 1124.9,901.0 1121.8,903.3 1118.7,911.9 1115.6,903.3 1112.4,880.0 1110.0,898.0 1103.7,898.7 1100.9,908.4 1097.4,911.9 1093.3,908.4 1090.5,880.0 1087.8,905.6 1084.3,911.9 1081.5,908.4 1079.5,880.0 1076.7,908.4 1073.0,911.9 1069.8,908.4 1067.0,880.0 1064.9,896.0 1060.1,895.9 1056.0,895.9 1053.9,905.6 1050.4,911.9 1047.0,908.4 1043.5,898.7 1038.7,895.9 1034.5,898.7 1033.1,905.6 1029.7,911.9 1026.2,908.4 1023.5,895.9 1021.4,908.4 1017.9,911.9 1014.5,908.4 1012.4,895.9 1006.9,897.3 1005.5,922.2 1002.0,927.9 997.2,913.9 995.1,882.1 991.0,880.0 988.9,880.7 984.8,882.1 982.7,900.1 979.2,911.9 975.1,900.1 972.3,895.9 968.2,895.9 966.1,905.6 962.9,911.9 960.6,908.4 958.5,880.0 957.1,891.8 953.0,894.6 949.1,895.9 946.7,891.8 944.0,864.0 941.9,879.4 939.1,882.1 936.4,894.6 932.9,895.9 925.3,895.9 921.8,895.9 920.5,905.6 917.3,911.9 913.6,900.1 910.1,880.7 906.6,880.0 903.9,886.3 901.8,922.2 899.0,927.9 896.3,913.9 894.2,895.9 890.7,895.9 888.7,895.9 886.6,905.6 883.1,911.9 880.0,891.8 876.4,872.5 874.3,886.3 872.3,907.0 869.5,911.9 866.7,908.4 865.4,895.9 862.6,895.9 859.8,894.6 855.7,880.0 851.5,896.0 848.1,895.9 843.9,894.6 842.1,880.0 839.8,907.0 837.0,911.9 833.6,900.1 831.5,880.0 828.7,907.0 826.0,911.9 823.2,908.4 821.1,897.3 818.3,891.8 814.9,880.0 812.8,894.6 809.4,895.9 806.6,895.9 805.2,895.9 802.4,895.9 801.1,919.5 798.3,927.9 795.5,913.9 793.5,898.7 791.4,895.9 790.0,897.3 786.6,895.9 781.0,895.9 779.6,894.6 776.2,895.9 773.0,895.9 771.3,922.2 768.9,927.9 766.5,913.9 764.4,897.3 761.7,895.9 757.5,895.9 754.8,895.9 751.3,895.9 749.2,908.4 745.8,911.9 743.0,900.1 740.9,880.0 738.2,897.3 734.0,895.9 728.5,886.3 725.7,880.0 721.6,880.7 718.8,905.6 715.8,911.9 712.6,900.1 709.1,898.7 705.3,880.0 702.2,895.9 698.1,880.0 696.0,907.0 692.8,911.9 689.1,900.1 686.3,896.0 683.6,891.8 680.8,880.0 678.0,905.6 674.8,911.9 671.1,898.7 667.7,895.9 660.7,895.9 653.8,895.9 650.0,895.9 647.1,895.9 643.7,896.0 639.5,895.9 636.7,897.3 634.7,913.9 631.2,927.9 628.4,922.2 625.7,912.5 622.9,911.2 620.1,895.9 618.8,900.1 615.3,911.9 612.5,908.4 609.1,895.9 606.3,908.4 603.6,911.2 599.4,911.9 595.3,911.9 591.8,911.9 588.3,895.9 586.3,905.6 582.8,911.9 580.1,905.6 575.9,896.0 573.8,891.8 571.8,889.0 569.7,907.0 566.9,911.9 563.5,911.9 560.0,911.9 557.9,911.2 556.6,897.3 553.8,896.6 548.9,895.9 546.9,897.3 544.8,925.0 541.6,927.9 537.9,913.9 535.1,880.0 531.7,919.5 528.2,927.9 524.8,913.9 522.3,895.9 519.2,913.9 517.1,938.8 514.4,943.9 511.6,927.8 509.5,900.1 506.8,880.0 504.0,898.7 499.9,911.2 497.1,922.2 493.6,927.9 490.2,913.9 487.4,895.9 484.7,897.3 482.6,922.2 479.8,927.9 477.1,925.0 475.7,911.9 472.2,911.9 468.8,911.2 466.7,880.0 464.6,911.2 461.8,911.9 457.7,900.1 452.9,880.0 446.6,905.6 443.9,911.9 440.7,911.9 439.3,922.2 437.0,927.9 434.2,913.9 430.7,880.0 428.0,905.6 424.9,911.9 421.1,897.3 418.3,880.7 415.0,880.0 410.9,879.4 409.5,896.0 406.0,895.9 401.2,895.9 395.7,895.9 393.6,896.6 390.8,895.9 386.0,880.0 383.9,894.6 381.9,911.2 379.5,911.9 377.7,912.5 375.6,911.9 372.9,911.2 368.0,911.9 364.6,911.9 363.2,909.8 361.1,911.9 357.7,905.6 355.6,880.0 352.8,896.0 350.1,895.9 345.9,889.0 342.4,880.0 339.7,880.0 338.3,911.2 335.5,911.9 333.5,911.2 332.1,895.9 328.6,896.0 324.5,895.9 321.0,891.8 318.3,880.0 316.2,908.4 313.0,911.9 309.3,900.1 306.5,880.0 303.7,880.0 300.3,880.0 296.8,879.4 293.4,898.7 290.6,908.4 288.1,911.9 285.8,909.8 283.0,895.9 280.9,908.4 278.9,911.9 275.4,900.1 271.9,880.0 269.9,891.8 267.4,895.9 265.0,891.8 263.0,880.0 260.9,908.4 258.1,911.9 254.7,894.6 252.6,864.0 250.8,864.0 247.7,913.9 244.6,943.9 241.5,913.9 239.4,880.0 236.7,891.8 233.9,907.0 231.2,912.3 225.6,911.9 221.5,908.4 215.3,895.9 212.5,895.9 209.7,891.8 207.0,872.5 204.2,891.8 202.1,897.3 198.7,911.9 193.8,895.9 192.4,922.2 189.4,927.9" fill="#FF0000" stroke="#FF0000" stroke-width="1.0" stroke-linejoin="round"/><path d="M191.1 829.4V875.8M194.5 829.4V862.5M210.1 861.4V875.6M228.4 861.4V885.4M241.8 845.4V879.7M245.0 845.4V891.4M254.0 829.4V855.6M274.4 845.4V868.6M299.2 845.4V861.3M308.6 829.4V860.9M329.3 861.4V877.4M338.3 845.4V877.0M358.3 877.4V890.8M365.3 877.4V893.3M377.4 861.4V885.6M384.2 861.4V875.7M393.6 877.4V885.7M408.8 845.4V869.4M417.8 845.4V861.7M434.6 845.4V879.4M448.7 861.4V877.9M458.4 861.4V880.4M469.2 845.4V877.0M478.0 861.4V892.4M491.8 845.4V881.7M505.4 845.4V866.1M521.7 845.4V871.0M532.8 845.4V874.8M548.9 845.4V869.4M555.2 877.4V885.9M558.6 877.4V893.1M571.8 845.4V865.9M594.6 861.4V885.3M605.6 877.4V891.9M613.0 861.4V883.9M626.8 845.4V879.6M638.8 877.4V885.5M645.0 877.4V885.4M656.6 861.4V877.4M672.1 861.4V880.5M681.8 813.4V847.5M695.6 845.4V875.2M707.1 845.4V865.7M715.3 877.4V892.6M726.0 861.4V869.7M747.8 845.4V876.3M764.4 861.4V878.1M780.3 861.4V877.0M800.4 813.4V866.2M812.1 861.4V876.8M819.0 845.4V868.0M828.3 861.4V883.3M842.1 845.4V861.4M850.8 845.4V869.4M856.4 861.4V870.6M859.8 861.4V876.7M878.5 845.4V863.2M887.7 845.4V871.6M897.0 861.4V888.1M907.6 845.4V861.5M917.7 861.4V884.9M927.0 829.4V861.4M935.7 845.4V868.8M946.7 845.4V867.3M965.7 861.4V882.6M972.3 845.4V869.4M984.8 861.4V870.5M995.8 861.4V875.8M1011.0 861.4V877.5M1024.8 861.4V880.5M1038.4 861.4V877.4M1048.1 861.4V884.1M1054.6 861.4V880.6M1069.8 845.4V875.6M1088.7 845.4V869.7M1100.6 861.4V883.7M1109.2 845.4V870.5M1116.8 845.4V874.8M1141.2 845.4V877.4M1145.1 845.4V878.1M1155.2 845.4V870.3M1164.6 829.4V866.2M1184.0 861.4V877.4M1197.2 861.4V875.2M1214.8 877.4V889.5M1231.5 862.6V871.4M1242.8 831.4V858.3M1263.0 850.4V864.4M1274.2 832.5V855.2M1283.9 834.5V857.4M1295.2 809.7V825.6M1311.3 821.6V835.5M1334.1 823.7V838.8M1345.2 830.3V854.5M1357.2 790.2V817.6M1373.2 804.2V820.5M1382.1 821.3V836.4M1399.2 812.3V842.1M1409.7 850.1V864.7M1430.3 847.3V855.1M1455.7 800.6V819.9M1478.1 837.2V859.4M1487.9 856.3V865.3M1499.3 834.5V842.0M1513.6 838.4V851.7M1531.5 843.1V859.5M1538.2 849.3V878.7M1545.5 867.2V874.8M1554.0 837.2V850.3M1563.0 821.3V844.7M1578.7 854.6V864.5M1589.7 853.7V869.8M1602.2 851.4V858.6M1611.2 843.6V875.4M1622.5 847.3V871.0M1634.7 864.3V877.4M1647.8 849.1V867.8M1653.3 861.4V869.9M1660.2 861.4V870.8M1668.5 861.4V877.4M1683.0 861.4V875.5M1687.2 861.4V869.6M1700.3 845.4V867.5M1716.2 845.4V861.9M1725.6 845.4V866.3M1734.5 861.4V892.0M1741.4 877.4V895.7M1748.3 861.4V879.3M1759.1 861.4V869.4M1771.3 845.4V861.6M1782.3 861.4V878.9M1800.0 861.4V876.7M1803.8 861.4V869.4M1812.8 845.4V869.0M1828.4 829.4V860.9M1834.2 861.4V879.4M1845.0 845.4V878.2M1853.9 861.4V870.0M1860.8 829.4V861.4M1874.6 861.4V877.4M1886.1 861.4V877.4M1894.4 845.4V861.0M1900.6 845.4V869.1M1908.2 861.4V885.3M1915.5 861.4V874.3M1922.4 861.4V885.0M1933.1 861.4V867.9M1945.5 861.4V869.6M1952.0 861.4V878.0M1968.3 845.4V875.6M1982.5 829.4V861.8M2000.1 845.4V865.0M2008.4 861.4V878.6M2014.7 861.4V871.5M189.4 925.3V877.4M198.7 909.3V876.9M212.5 893.3V883.0M231.2 909.7V892.2M244.6 941.3V893.3M258.1 909.3V883.2M267.4 893.3V877.4M278.9 909.3V885.1M288.1 909.3V890.9M300.3 877.4V861.4M313.0 909.3V883.7M335.5 909.3V880.2M352.8 893.4V885.4M361.1 909.3V895.5M364.6 909.3V894.2M368.0 909.3V896.8M377.7 909.9V885.7M393.6 894.0V885.7M409.5 893.4V869.4M424.9 909.3V892.9M437.0 925.3V891.9M443.9 909.3V895.1M461.8 909.3V887.9M472.2 909.3V885.8M479.8 925.3V897.5M493.6 925.3V890.8M514.4 941.3V909.9M528.2 925.3V894.8M541.6 925.3V899.3M560.0 909.3V896.5M566.9 909.3V889.9M582.8 909.3V893.5M591.8 909.3V891.7M599.4 909.3V898.2M615.3 909.3V891.0M631.2 925.3V907.6M674.8 909.3V891.5M692.8 909.3V883.8M702.2 893.3V876.1M715.8 909.3V893.4M738.2 894.7V882.6M745.8 909.3V880.6M768.9 925.3V894.1M776.2 893.3V885.3M781.0 893.3V878.8M790.0 894.7V894.3M798.3 925.3V877.3M809.4 893.3V882.7M826.0 909.3V891.5M837.0 909.3V890.1M851.5 893.4V871.1M862.6 893.3V877.8M869.5 909.3V892.0M883.1 909.3V884.2M899.0 925.3V893.3M917.3 909.3V885.5M932.9 893.3V874.7M949.1 893.3V874.1M962.9 909.3V889.5M979.2 909.3V893.3M1002.0 925.3V901.0M1017.9 909.3V893.4M1029.7 909.3V885.3M1050.4 909.3V888.3M1064.9 893.4V875.3M1073.0 909.3V883.8M1084.3 909.3V882.3M1097.4 909.3V891.9M1118.7 909.3V883.7M1146.7 911.6V883.4M1162.5 909.3V872.3M1173.1 893.3V883.4M1191.8 895.2V886.3M1210.5 909.3V900.5M1224.1 925.3V909.8M1249.3 911.6V898.3M1270.3 896.3V872.3M1281.2 887.5V869.0M1299.1 842.4V831.9M1315.5 868.0V851.7M1324.0 866.5V857.1M1338.0 857.1V846.2M1340.0 857.1V850.1M1347.9 891.4V864.0M1366.1 854.3V839.8M1395.3 873.9V846.5M1402.8 879.2V849.5M1412.1 881.7V866.6M1423.3 905.4V884.1M1441.7 905.4V892.0M1464.6 901.5V886.5M1480.6 883.6V865.1M1492.1 882.8V873.4M1510.5 868.8V858.3M1517.5 887.9V865.5M1526.8 890.6V874.8M1540.0 912.8V884.0M1549.4 883.6V872.4M1559.5 868.8V852.8M1568.8 884.4V868.5M1573.8 885.8V870.2M1583.5 900.5V878.2M1595.3 901.7V878.8M1613.2 911.3V883.4M1626.4 895.4V881.4M1631.9 895.4V880.9M1643.0 927.6V896.0M1665.8 893.3V879.9M1675.0 925.3V907.8M1696.2 893.3V879.2M1702.4 893.3V874.0M1723.1 893.3V872.3M1737.0 925.3V898.0M1764.6 893.3V884.0M1778.7 893.3V881.5M1787.4 909.3V892.8M1796.4 893.3V878.1M1814.9 893.3V871.9M1830.8 893.3V868.7M1839.5 909.3V885.6M1844.6 911.3V879.3M1856.4 894.7V878.1M1890.2 893.3V876.5M1904.1 909.3V887.4M1911.0 909.3V885.3M1924.8 909.3V890.4M1938.6 893.3V884.5M1956.6 909.3V895.0M1965.6 909.3V878.3M1981.5 894.7V863.6M2009.8 896.8V883.1" fill="none" stroke="#FF0000" stroke-width="6.2" stroke-linecap="round"/>
<polyline points="185.2,135.4 187.2,758.4 189.2,923.2" fill="none" stroke="#FF0000" stroke-width="6.2" stroke-linejoin="round"/>
<polygon points="185.0,660.7 191.1,640.9 194.5,640.9 197.7,659.3 201.0,660.7 204.2,678.1 207.0,680.5 210.1,680.5 213.2,698.7 217.1,700.0 220.1,707.2 223.1,720.1 225.6,691.8 228.4,680.5 231.4,698.7 233.2,700.3 236.7,701.2 239.4,678.1 241.8,660.7 245.0,660.7 247.7,663.6 250.5,659.3 254.0,640.9 256.7,664.4 258.8,680.5 261.6,680.5 265.0,680.5 266.4,680.5 269.2,680.7 271.2,667.9 274.4,660.7 277.5,678.1 280.2,681.5 283.0,682.4 286.5,685.0 289.2,700.4 292.7,700.3 295.4,681.5 299.2,660.7 302.4,660.7 305.1,652.4 308.6,640.9 312.0,664.4 313.4,681.5 316.2,682.4 318.3,686.7 323.8,700.3 326.6,685.0 329.3,680.5 332.8,680.5 335.5,667.9 338.3,660.7 341.1,674.7 343.8,679.8 345.9,686.7 349.4,700.3 354.2,700.4 358.3,700.3 361.1,705.5 362.5,708.9 365.3,700.3 368.0,708.9 370.1,720.1 372.9,698.7 377.4,680.5 380.2,680.5 384.2,680.5 387.4,698.7 390.1,700.3 393.6,700.3 396.4,708.9 399.1,720.1 401.9,691.8 404.0,684.1 406.7,664.4 408.8,660.7 413.0,660.7 417.8,660.7 419.0,663.1 421.8,678.1 423.8,698.7 426.6,700.3 430.0,681.5 434.6,660.7 437.7,681.5 439.7,702.1 443.2,702.9 445.7,708.9 448.7,680.5 458.4,680.5 460.0,690.1 463.2,684.1 466.0,671.3 469.2,660.7 472.2,681.5 474.3,700.3 478.0,680.5 481.2,698.7 482.6,715.8 485.3,720.1 487.4,705.5 489.5,674.7 491.8,660.7 494.6,681.5 496.4,715.8 498.5,720.1 500.6,723.5 501.9,691.8 505.4,660.7 508.4,678.1 510.2,700.4 513.7,702.1 516.5,700.3 518.5,673.0 521.7,660.7 524.8,681.5 528.2,684.1 529.6,680.5 532.8,660.7 536.5,679.8 540.0,681.5 542.0,698.7 543.8,700.3 546.2,673.0 548.9,660.7 551.7,681.5 553.1,702.1 555.2,700.3 558.6,700.3 561.4,715.8 563.5,720.1 566.2,698.7 569.0,671.3 571.8,660.7 575.2,681.5 579.4,685.0 582.1,698.7 584.2,704.7 589.7,705.5 591.1,700.3 594.6,680.5 598.0,698.7 600.1,719.2 602.2,720.1 605.6,700.3 609.1,700.3 613.0,680.5 616.0,698.7 617.4,700.3 620.8,682.4 626.8,660.7 629.8,685.0 631.2,715.8 632.9,720.1 636.0,700.4 638.8,700.3 642.3,702.1 645.0,700.3 647.8,703.8 650.0,702.1 652.4,698.7 656.6,680.5 660.0,700.3 663.5,701.7 667.0,698.7 669.0,685.0 672.1,680.5 675.7,700.3 678.0,664.4 681.8,621.1 684.9,661.0 687.0,698.7 689.1,700.3 692.5,678.1 695.6,660.7 698.8,681.5 701.5,680.5 704.3,667.9 707.1,660.7 709.8,685.0 711.9,703.8 715.3,700.3 720.2,701.2 723.0,685.0 726.0,680.5 729.9,691.8 732.6,712.4 734.7,720.1 736.8,702.1 738.9,686.7 742.3,684.1 745.1,671.3 747.8,660.7 750.6,679.8 754.8,681.5 757.5,688.4 759.6,700.3 761.7,683.3 764.4,680.5 771.3,683.3 774.1,691.8 776.2,700.3 780.3,680.5 783.1,695.2 784.5,715.8 787.2,720.1 790.7,720.9 792.8,691.8 795.5,685.0 797.6,647.3 800.4,621.1 803.8,661.0 805.2,702.1 808.0,700.3 812.1,680.5 814.5,680.5 816.3,667.9 819.0,660.7 821.8,681.5 823.9,700.4 825.3,700.3 828.3,680.5 832.2,686.7 836.3,700.3 839.1,667.9 842.1,660.7 846.0,678.1 847.4,680.5 850.8,660.7 854.3,681.5 856.4,680.5 859.8,680.5 866.7,683.3 870.2,700.3 873.0,683.3 875.7,666.1 878.5,660.7 882.4,676.4 884.5,680.5 887.7,660.7 890.7,681.5 892.8,700.3 897.0,680.5 901.1,680.5 903.9,666.1 907.6,660.7 911.5,678.1 914.2,684.1 917.7,680.5 921.2,684.1 923.6,664.4 927.0,640.9 930.1,664.4 931.5,680.5 935.7,660.7 939.1,679.8 941.9,680.5 946.7,660.7 950.2,678.1 953.6,681.5 955.7,700.4 959.9,700.3 962.6,691.8 965.7,680.5 968.4,680.5 972.3,660.7 975.8,681.5 977.8,701.2 979.2,700.3 982.0,685.0 984.8,680.5 991.7,680.5 995.8,680.5 999.3,682.4 1001.3,698.7 1002.7,700.3 1004.8,685.0 1011.0,680.5 1013.8,691.8 1015.9,700.4 1019.3,700.3 1022.1,688.4 1024.8,680.5 1028.0,680.5 1031.1,680.5 1034.5,680.5 1038.4,680.5 1041.4,688.4 1043.9,700.3 1048.1,680.5 1051.1,690.1 1054.6,680.5 1058.0,695.2 1060.1,700.3 1062.2,685.0 1065.6,673.0 1069.8,660.7 1073.2,678.1 1075.3,680.5 1078.8,684.1 1082.9,683.3 1085.0,667.9 1088.7,660.7 1092.6,678.1 1094.7,698.7 1096.7,700.3 1100.6,680.5 1103.7,700.3 1105.7,667.9 1109.2,660.7 1113.2,660.7 1116.8,660.7 1119.4,682.9 1121.0,702.2 1123.3,706.0 1125.7,723.4 1127.2,720.1 1129.6,686.8 1131.1,682.9 1135.8,681.9 1138.1,665.6 1141.2,660.7 1145.1,660.7 1147.4,679.1 1149.5,700.3 1152.1,671.4 1155.2,660.7 1158.8,671.4 1161.4,652.1 1164.6,640.9 1167.7,667.5 1169.2,702.2 1171.9,700.3 1175.5,686.8 1179.3,683.9 1184.0,680.5 1186.3,694.5 1188.7,703.1 1191.8,700.3 1194.1,686.8 1197.2,680.5 1201.1,688.7 1203.5,700.2 1208.1,702.2 1210.8,720.1 1214.8,700.3 1218.2,713.7 1221.3,720.1 1224.5,721.4 1226.8,698.3 1229.1,683.9 1231.5,680.5 1235.0,680.5 1237.7,682.9 1240.0,648.2 1242.5,640.9 1245.6,668.1 1246.9,699.4 1248.5,700.3 1250.7,700.7 1253.8,683.1 1256.3,680.6 1260.1,664.3 1262.8,660.7 1265.7,678.1 1268.6,680.5 1271.3,664.3 1274.5,660.7 1277.3,678.1 1279.5,700.3 1281.4,681.9 1283.9,680.5 1286.6,693.2 1288.2,700.3 1290.8,683.1 1292.6,665.6 1295.1,660.7 1297.9,678.1 1300.2,680.5 1305.2,680.5 1307.7,680.5 1311.2,680.5 1313.9,690.7 1315.8,700.3 1318.3,700.3 1320.2,700.3 1322.7,705.7 1324.6,720.1 1326.5,703.2 1329.0,700.7 1331.5,683.1 1334.0,680.5 1337.1,693.2 1339.6,700.3 1342.1,683.1 1345.3,680.5 1348.0,693.2 1350.3,700.3 1352.2,690.7 1353.4,663.1 1354.7,643.0 1356.8,640.9 1359.7,655.6 1360.9,678.1 1363.4,680.6 1365.9,681.9 1367.8,700.3 1369.7,668.1 1372.8,660.7 1376.0,678.1 1377.8,700.3 1379.7,681.9 1382.2,680.5 1384.7,690.7 1386.0,708.2 1388.5,720.1 1390.4,705.7 1391.6,683.1 1394.8,665.6 1397.3,660.7 1401.7,661.8 1403.5,678.1 1404.8,705.7 1405.4,720.1 1407.9,701.9 1410.4,700.3 1420.5,700.9 1422.3,700.3 1424.2,701.9 1427.3,683.1 1430.2,680.5 1433.6,693.2 1435.5,700.7 1440.0,710.7 1442.5,720.1 1445.0,705.7 1447.5,700.7 1450.7,699.4 1451.9,674.4 1453.2,643.0 1455.7,640.9 1458.2,655.6 1459.4,678.1 1462.0,681.9 1463.8,693.2 1466.3,720.1 1467.6,693.2 1469.5,681.9 1473.2,680.6 1475.1,664.3 1478.2,660.7 1480.8,670.6 1482.0,693.2 1483.3,699.4 1488.3,700.7 1490.2,705.7 1492.7,720.1 1494.5,693.2 1496.4,681.9 1498.9,680.5 1502.1,690.7 1503.9,700.3 1507.7,700.3 1509.6,686.9 1510.8,681.9 1514.0,680.5 1517.1,686.9 1518.3,705.7 1519.6,720.1 1525.2,720.1 1526.5,705.7 1528.4,683.1 1530.9,680.5 1534.0,700.3 1537.8,680.5 1540.3,686.9 1540.9,705.7 1542.2,700.3 1544.7,700.3 1547.8,700.3 1549.0,680.6 1550.9,664.3 1553.8,660.7 1557.2,668.1 1558.4,680.5 1559.7,649.3 1562.8,640.9 1566.0,655.6 1566.6,679.4 1569.1,680.5 1580.4,680.5 1582.3,680.5 1585.4,680.5 1591.7,680.5 1594.2,680.5 1596.7,680.5 1604.8,680.5 1606.7,678.1 1607.9,664.3 1611.1,660.7 1614.2,674.4 1615.5,700.7 1616.7,700.3 1618.6,683.1 1619.8,664.3 1623.0,660.7 1625.5,670.6 1627.4,693.2 1630.0,710.7 1631.9,686.7 1634.7,680.5 1638.8,685.0 1641.6,700.3 1644.3,673.0 1647.8,660.7 1651.2,681.5 1653.3,680.5 1656.8,680.5 1660.2,680.5 1664.4,690.1 1668.5,680.5 1671.3,695.2 1673.4,708.9 1674.5,720.1 1676.8,703.8 1679.6,688.4 1683.0,680.5 1687.2,680.5 1691.3,685.8 1696.2,685.0 1697.6,667.9 1700.3,660.7 1703.5,678.1 1704.5,700.4 1705.9,700.3 1709.3,683.3 1712.1,681.5 1713.5,669.6 1716.2,660.7 1721.1,680.5 1723.1,667.9 1725.6,660.7 1728.9,681.5 1730.3,700.3 1734.5,680.5 1737.7,695.2 1738.3,720.1 1741.4,700.3 1744.6,720.1 1746.0,691.8 1748.3,680.5 1752.9,700.3 1755.6,686.7 1759.1,680.5 1762.5,691.8 1766.0,700.3 1768.1,671.3 1771.3,660.7 1775.0,681.5 1777.1,700.3 1779.1,688.4 1782.3,680.5 1785.4,691.8 1787.8,700.3 1790.2,686.7 1793.7,685.0 1797.1,681.5 1800.0,680.5 1803.8,680.5 1808.0,683.3 1810.0,667.9 1812.8,660.7 1816.3,671.3 1819.0,664.4 1822.5,663.1 1825.3,661.0 1828.4,640.9 1831.5,664.4 1832.9,685.0 1834.2,680.5 1838.4,682.4 1841.8,678.1 1845.0,660.7 1848.1,681.5 1850.1,700.3 1853.9,680.5 1856.4,680.5 1857.7,661.0 1860.8,640.9 1864.0,664.4 1865.3,698.7 1868.1,700.3 1870.9,703.8 1872.3,686.7 1874.6,680.5 1877.1,691.8 1879.2,712.4 1881.2,720.1 1883.3,691.8 1886.1,680.5 1889.8,680.5 1892.3,667.9 1894.4,660.7 1900.6,660.7 1903.4,678.1 1905.4,700.3 1908.2,680.5 1911.7,680.5 1915.5,680.5 1918.6,690.1 1922.4,680.5 1926.2,700.3 1928.9,685.0 1933.1,680.5 1936.6,686.7 1939.3,702.1 1940.7,700.3 1942.8,688.4 1945.5,680.5 1948.3,690.1 1952.0,680.5 1955.2,695.2 1957.3,708.9 1960.1,673.0 1962.1,665.8 1968.3,660.7 1971.8,678.1 1974.6,680.5 1977.3,661.0 1982.5,640.9 1985.6,664.4 1987.0,683.3 1989.8,680.5 1992.5,669.6 1995.3,663.6 2000.1,660.7 2003.6,673.0 2005.7,680.5 2008.4,680.5 2011.2,700.3 2014.7,680.5 2016.7,689.2 2016.7,696.2 2012.6,725.3 2009.8,729.6 2005.0,725.3 2001.5,723.6 1998.8,705.5 1994.6,705.5 1989.8,705.5 1987.0,723.6 1984.2,725.3 1981.5,727.0 1980.1,713.3 1976.6,705.5 1972.5,726.1 1968.3,740.7 1965.6,745.0 1962.1,725.3 1960.1,744.1 1956.6,745.0 1953.1,744.1 1951.1,711.6 1944.8,705.5 1942.1,720.1 1938.6,725.3 1934.5,713.3 1932.4,696.2 1929.6,713.3 1927.6,740.7 1924.8,745.0 1922.0,744.1 1920.0,709.9 1916.5,705.5 1913.7,740.7 1911.0,745.0 1906.8,745.0 1904.1,745.0 1901.3,740.7 1899.2,692.8 1895.8,685.7 1893.0,723.6 1890.2,725.3 1885.4,725.3 1877.1,725.3 1870.2,725.3 1866.0,725.3 1863.3,725.3 1861.2,725.3 1858.4,725.3 1856.4,727.0 1854.3,705.5 1851.5,716.7 1850.1,744.1 1847.0,745.0 1844.6,747.5 1842.5,745.0 1839.5,745.0 1835.6,740.7 1833.6,725.3 1830.8,725.3 1827.3,723.6 1825.3,686.8 1821.1,685.7 1818.3,720.1 1814.9,725.3 1811.4,723.6 1809.4,705.5 1806.6,705.5 1801.1,705.5 1800.0,723.6 1796.4,725.3 1793.0,725.3 1790.9,744.1 1787.4,745.0 1784.0,744.1 1781.9,725.3 1778.7,725.3 1775.7,723.6 1773.6,709.9 1770.8,705.5 1768.1,720.1 1764.6,725.3 1761.2,720.1 1759.1,705.5 1756.3,728.7 1750.8,729.6 1747.3,730.4 1745.3,749.2 1741.1,751.0 1739.7,761.2 1737.0,764.8 1734.2,761.2 1732.8,727.0 1730.1,726.1 1725.9,716.7 1723.1,725.3 1719.7,720.1 1717.6,707.3 1712.1,705.5 1709.3,709.9 1706.6,723.6 1702.4,725.3 1698.5,716.7 1696.2,725.3 1692.7,716.7 1690.0,705.5 1684.4,706.5 1682.4,727.9 1680.3,730.4 1678.2,757.8 1675.0,764.8 1671.3,747.5 1669.2,725.3 1665.8,725.3 1662.3,720.1 1659.5,705.5 1656.8,705.5 1649.9,705.5 1647.8,716.7 1645.7,761.2 1643.0,764.8 1640.9,761.2 1639.5,740.7 1637.4,705.5 1635.3,720.1 1631.9,725.3 1630.0,725.3 1625.5,725.3 1622.4,717.2 1619.2,705.5 1618.0,717.2 1616.1,739.8 1613.6,745.0 1610.5,739.8 1609.2,705.3 1602.9,704.7 1600.4,694.7 1597.9,742.3 1594.8,745.0 1591.0,742.3 1588.5,725.3 1586.0,742.3 1583.5,745.0 1580.4,739.8 1578.5,705.5 1575.4,725.3 1570.4,725.3 1567.8,722.2 1566.6,705.3 1555.3,704.7 1554.1,694.7 1551.6,722.2 1549.0,725.4 1544.7,727.2 1542.8,759.8 1540.0,764.8 1537.8,761.1 1536.5,729.8 1534.0,725.3 1530.9,726.0 1529.0,742.3 1525.9,745.0 1523.4,742.3 1521.5,725.3 1519.6,742.3 1517.1,745.0 1514.6,742.3 1512.7,725.3 1510.8,725.3 1508.3,722.2 1506.4,705.5 1498.9,705.9 1497.0,719.7 1494.5,742.3 1492.0,745.0 1488.9,742.3 1487.0,727.2 1485.1,705.5 1482.6,725.3 1475.7,725.3 1473.2,722.2 1472.0,705.5 1470.1,727.2 1468.2,742.3 1465.1,745.0 1462.0,739.8 1459.4,717.2 1456.9,685.7 1453.8,719.7 1450.7,724.7 1448.8,742.3 1446.3,744.8 1444.4,759.8 1441.9,764.8 1440.0,729.8 1435.5,727.2 1433.6,719.7 1430.5,705.5 1427.3,729.8 1426.1,759.8 1423.6,764.8 1421.1,761.1 1419.8,742.3 1417.9,725.3 1416.1,727.2 1414.8,742.3 1411.7,745.0 1407.9,725.3 1405.4,742.3 1402.9,745.0 1396.6,745.0 1391.0,745.0 1388.5,739.8 1386.6,725.3 1384.1,725.3 1379.1,725.3 1376.0,717.2 1373.5,705.5 1370.3,705.9 1368.4,719.7 1365.9,725.3 1362.2,719.7 1360.3,705.5 1357.8,705.5 1355.3,707.2 1352.2,727.2 1350.3,759.8 1347.8,764.8 1345.3,761.1 1344.0,742.3 1342.1,725.3 1339.6,725.3 1337.1,724.7 1335.2,725.3 1332.7,723.5 1329.0,725.4 1326.5,728.5 1324.6,742.3 1322.1,745.0 1319.6,736.0 1317.7,744.8 1315.2,745.0 1312.7,734.8 1310.8,709.7 1307.7,705.3 1304.5,704.7 1302.0,685.7 1299.5,704.7 1296.4,705.3 1293.3,705.9 1291.4,717.2 1288.9,739.8 1286.4,745.0 1283.9,745.0 1280.7,745.0 1278.8,742.3 1276.3,722.2 1273.8,705.5 1272.0,722.2 1269.4,725.3 1266.9,722.2 1265.1,707.2 1261.9,699.7 1258.8,685.7 1255.0,704.7 1253.2,719.7 1251.9,739.8 1249.4,745.0 1246.9,742.3 1245.0,724.7 1242.5,707.2 1240.0,705.5 1232.2,707.0 1229.1,715.1 1227.6,757.5 1224.1,764.8 1221.3,761.3 1219.8,732.4 1216.7,725.3 1214.3,738.2 1210.5,745.0 1205.8,728.6 1203.5,707.4 1199.6,705.5 1196.5,724.7 1191.8,727.6 1187.4,725.3 1184.8,725.3 1180.9,725.3 1177.0,725.3 1173.1,725.3 1170.0,722.8 1166.9,705.5 1165.3,734.4 1162.5,745.0 1159.9,742.1 1156.8,728.6 1152.1,725.3 1149.8,734.4 1146.7,747.8 1142.0,745.0 1135.8,745.0 1133.4,734.4 1130.3,725.3 1124.9,731.5 1121.8,734.4 1118.7,745.0 1115.6,734.4 1112.4,705.5 1110.0,727.9 1103.7,728.7 1100.9,740.7 1097.4,745.0 1093.3,740.7 1090.5,705.5 1087.8,737.3 1084.3,745.0 1081.5,740.7 1079.5,705.5 1076.7,740.7 1073.0,745.0 1069.8,740.7 1067.0,705.5 1064.9,725.3 1060.1,725.3 1056.0,725.3 1053.9,737.3 1050.4,745.0 1047.0,740.7 1043.5,728.7 1038.7,725.3 1034.5,728.7 1033.1,737.3 1029.7,745.0 1026.2,740.7 1023.5,725.3 1021.4,740.7 1017.9,745.0 1014.5,740.7 1012.4,725.3 1006.9,727.0 1005.5,757.8 1002.0,764.8 997.2,747.5 995.1,708.2 991.0,705.5 988.9,706.5 984.8,708.2 982.7,730.4 979.2,745.0 975.1,730.4 972.3,725.3 968.2,725.3 966.1,737.3 962.9,745.0 960.6,740.7 958.5,705.5 957.1,720.1 953.0,723.6 949.1,725.3 946.7,720.1 944.0,685.7 941.9,704.7 939.1,708.2 936.4,723.6 932.9,725.3 925.3,725.3 921.8,725.3 920.5,737.3 917.3,745.0 913.6,730.4 910.1,706.5 906.6,705.5 903.9,713.3 901.8,757.8 899.0,764.8 896.3,747.5 894.2,725.3 890.7,725.3 888.7,725.3 886.6,737.3 883.1,745.0 880.0,720.1 876.4,696.2 874.3,713.3 872.3,739.0 869.5,745.0 866.7,740.7 865.4,725.3 862.6,725.3 859.8,723.6 855.7,705.5 851.5,725.3 848.1,725.3 843.9,723.6 842.1,705.5 839.8,739.0 837.0,745.0 833.6,730.4 831.5,705.5 828.7,739.0 826.0,745.0 823.2,740.7 821.1,727.0 818.3,720.1 814.9,705.5 812.8,723.6 809.4,725.3 806.6,725.3 805.2,725.3 802.4,725.3 801.1,754.4 798.3,764.8 795.5,747.5 793.5,728.7 791.4,725.3 790.0,727.0 786.6,725.3 781.0,725.3 779.6,723.6 776.2,725.3 773.0,725.3 771.3,757.8 768.9,764.8 766.5,747.5 764.4,727.0 761.7,725.3 757.5,725.3 754.8,725.3 751.3,725.3 749.2,740.7 745.8,745.0 743.0,730.4 740.9,705.5 738.2,727.0 734.0,725.3 728.5,713.3 725.7,705.5 721.6,706.5 718.8,737.3 715.8,745.0 712.6,730.4 709.1,728.7 705.3,705.5 702.2,725.3 698.1,705.5 696.0,739.0 692.8,745.0 689.1,730.4 686.3,725.3 683.6,720.1 680.8,705.5 678.0,737.3 674.8,745.0 671.1,728.7 667.7,725.3 660.7,725.3 653.8,725.3 650.0,725.3 647.1,725.3 643.7,725.3 639.5,725.3 636.7,727.0 634.7,747.5 631.2,764.8 628.4,757.8 625.7,745.8 622.9,744.1 620.1,725.3 618.8,730.4 615.3,745.0 612.5,740.7 609.1,725.3 606.3,740.7 603.6,744.1 599.4,745.0 595.3,745.0 591.8,745.0 588.3,725.3 586.3,737.3 582.8,745.0 580.1,737.3 575.9,725.3 573.8,720.1 571.8,716.7 569.7,739.0 566.9,745.0 563.5,745.0 560.0,745.0 557.9,744.1 556.6,727.0 553.8,726.1 548.9,725.3 546.9,727.0 544.8,761.2 541.6,764.8 537.9,747.5 535.1,705.5 531.7,754.4 528.2,764.8 524.8,747.5 522.3,725.3 519.2,747.5 517.1,778.3 514.4,784.6 511.6,764.7 509.5,730.4 506.8,705.5 504.0,728.7 499.9,744.1 497.1,757.8 493.6,764.8 490.2,747.5 487.4,725.3 484.7,727.0 482.6,757.8 479.8,764.8 477.1,761.2 475.7,745.0 472.2,745.0 468.8,744.1 466.7,705.5 464.6,744.1 461.8,745.0 457.7,730.4 452.9,705.5 446.6,737.3 443.9,745.0 440.7,745.0 439.3,757.8 437.0,764.8 434.2,747.5 430.7,705.5 428.0,737.3 424.9,745.0 421.1,727.0 418.3,706.5 415.0,705.5 410.9,704.7 409.5,725.3 406.0,725.3 401.2,725.3 395.7,725.3 393.6,726.1 390.8,725.3 386.0,705.5 383.9,723.6 381.9,744.1 379.5,745.0 377.7,745.8 375.6,745.0 372.9,744.1 368.0,745.0 364.6,745.0 363.2,742.4 361.1,745.0 357.7,737.3 355.6,705.5 352.8,725.3 350.1,725.3 345.9,716.7 342.4,705.5 339.7,705.5 338.3,744.1 335.5,745.0 333.5,744.1 332.1,725.3 328.6,725.3 324.5,725.3 321.0,720.1 318.3,705.5 316.2,740.7 313.0,745.0 309.3,730.4 306.5,705.5 303.7,705.5 300.3,705.5 296.8,704.7 293.4,728.7 290.6,740.7 288.1,745.0 285.8,742.4 283.0,725.3 280.9,740.7 278.9,745.0 275.4,730.4 271.9,705.5 269.9,720.1 267.4,725.3 265.0,720.1 263.0,705.5 260.9,740.7 258.1,745.0 254.7,723.6 252.6,685.7 250.8,685.7 247.7,747.5 244.6,784.6 241.5,747.5 239.4,705.5 236.7,720.1 233.9,739.0 231.2,745.5 225.6,745.0 221.5,740.7 215.3,725.3 212.5,725.3 209.7,720.1 207.0,696.2 204.2,720.1 202.1,727.0 198.7,745.0 193.8,725.3 192.4,725.3 189.4,725.3 185.0,665.9" fill="#000000" stroke="#000000" stroke-width="1.0" stroke-linejoin="round"/><path d="M191.1 643.5V683.1M194.5 643.5V684.5M210.1 683.1V700.7M228.4 683.1V712.9M241.8 663.3V705.8M245.0 663.3V720.2M254.0 643.5V675.9M274.4 663.3V692.1M299.2 663.3V683.0M308.6 643.5V682.5M329.3 683.1V702.9M338.3 663.3V702.4M358.3 702.9V719.5M365.3 702.9V722.7M377.4 683.1V713.1M384.2 683.1V700.8M393.6 702.9V713.2M408.8 663.3V693.0M417.8 663.3V683.5M434.6 663.3V705.4M448.7 683.1V703.6M458.4 683.1V706.7M469.2 663.3V702.5M478.0 683.1V721.5M491.8 663.3V708.3M505.4 663.3V688.9M521.7 663.3V695.0M532.8 663.3V699.7M548.9 663.3V693.0M555.2 702.9V713.4M558.6 702.9V722.3M571.8 663.3V688.7M594.6 683.1V712.8M605.6 702.9V720.9M613.0 683.1V710.9M626.8 663.3V705.7M638.8 702.9V713.0M645.0 702.9V712.8M656.6 683.1V702.9M672.1 683.1V706.7M681.8 623.7V665.9M695.6 663.3V700.2M707.1 663.3V688.5M715.3 702.9V721.7M726.0 683.1V693.4M747.8 663.3V701.6M764.4 683.1V703.7M780.3 683.1V702.5M800.4 623.7V689.1M812.1 683.1V702.2M819.0 663.3V691.3M828.3 683.1V710.2M842.1 663.3V683.1M850.8 663.3V693.0M856.4 683.1V694.5M859.8 683.1V702.0M878.5 663.3V685.4M887.7 663.3V695.8M897.0 683.1V716.2M907.6 663.3V683.2M917.7 683.1V712.3M927.0 643.5V683.1M935.7 663.3V692.3M946.7 663.3V690.4M965.7 683.1V709.4M972.3 663.3V693.0M984.8 683.1V694.3M995.8 683.1V700.9M1011.0 683.1V703.1M1024.8 683.1V706.7M1038.4 683.1V703.0M1048.1 683.1V711.3M1054.6 683.1V706.9M1069.8 663.3V700.7M1088.7 663.3V693.4M1100.6 683.1V710.8M1109.2 663.3V694.3M1116.8 663.3V699.7M1141.2 663.3V702.9M1145.1 663.3V703.8M1155.2 663.3V694.1M1164.6 643.5V689.1M1184.0 683.1V702.9M1197.2 683.1V700.2M1214.8 702.9V717.9M1231.5 683.1V694.8M1235.0 683.1V693.5M1242.5 643.5V674.1M1262.8 663.3V681.2M1274.5 663.3V685.2M1283.9 683.1V712.8M1295.1 663.3V683.1M1311.2 683.1V697.6M1320.2 702.9V719.3M1334.0 683.1V702.4M1345.3 683.1V720.8M1356.8 643.5V673.5M1372.8 663.3V683.1M1382.2 683.1V702.9M1397.3 663.3V702.9M1410.4 702.9V719.4M1422.3 702.9V731.6M1430.2 683.1V694.0M1455.7 643.5V670.1M1478.2 663.3V693.0M1498.9 683.1V693.2M1514.0 683.1V708.5M1530.9 683.1V703.2M1537.8 683.1V720.8M1542.2 702.9V730.6M1553.8 663.3V679.1M1562.8 643.5V673.0M1611.1 663.3V700.8M1623.0 663.3V689.8M1634.7 683.1V700.8M1647.8 663.3V688.7M1653.3 683.1V693.0M1660.2 683.1V694.8M1668.5 683.1V702.9M1683.0 683.1V700.6M1687.2 683.1V693.2M1700.3 663.3V690.7M1716.2 663.3V683.8M1725.6 663.3V689.1M1734.5 683.1V721.0M1741.4 702.9V725.6M1748.3 683.1V705.3M1759.1 683.1V693.0M1771.3 663.3V683.4M1782.3 683.1V704.8M1800.0 683.1V702.0M1803.8 683.1V693.0M1812.8 663.3V692.5M1828.4 643.5V682.5M1834.2 683.1V705.4M1845.0 663.3V703.9M1853.9 683.1V693.8M1860.8 643.5V683.1M1874.6 683.1V702.9M1886.1 683.1V702.9M1894.4 663.3V682.7M1900.6 663.3V692.7M1908.2 683.1V712.8M1915.5 683.1V699.1M1922.4 683.1V712.4M1933.1 683.1V691.2M1945.5 683.1V693.3M1952.0 683.1V703.6M1968.3 663.3V700.7M1982.5 643.5V683.7M2000.1 663.3V687.6M2008.4 683.1V704.4M2014.7 683.1V695.6M189.4 722.7V685.8M198.7 742.4V702.4M212.5 722.7V709.9M231.2 742.9V721.2M244.6 782.0V722.7M258.1 742.4V710.1M267.4 722.7V702.9M278.9 742.4V712.4M288.1 742.4V719.6M300.3 702.9V683.1M313.0 742.4V710.7M335.5 742.4V706.4M352.8 722.7V712.8M361.1 742.4V725.3M364.6 742.4V723.7M368.0 742.4V727.0M377.7 743.2V713.2M393.6 723.5V713.2M409.5 722.7V693.0M424.9 742.4V722.2M437.0 762.2V720.8M443.9 742.4V724.8M461.8 742.4V715.9M472.2 742.4V713.3M479.8 762.2V727.8M493.6 762.2V719.5M514.4 782.0V743.1M528.2 762.2V724.5M541.6 762.2V730.0M560.0 742.4V726.5M566.9 742.4V718.4M582.8 742.4V722.9M591.8 742.4V720.7M599.4 742.4V728.7M615.3 742.4V719.8M631.2 762.2V740.3M674.8 742.4V720.4M692.8 742.4V710.8M702.2 722.7V701.3M715.8 742.4V722.7M738.2 724.4V709.4M745.8 742.4V706.8M768.9 762.2V723.5M776.2 722.7V712.8M781.0 722.7V704.7M790.0 724.4V723.9M798.3 762.2V702.8M809.4 722.7V709.5M826.0 742.4V720.4M837.0 742.4V718.6M851.5 722.7V695.1M862.6 722.7V703.4M869.5 742.4V721.0M883.1 742.4V711.4M899.0 762.2V722.7M917.3 742.4V713.0M932.9 722.7V699.6M949.1 722.7V698.9M962.9 742.4V717.9M979.2 742.4V722.7M1002.0 762.2V732.1M1017.9 742.4V722.7M1029.7 742.4V712.8M1050.4 742.4V716.5M1064.9 722.7V700.3M1073.0 742.4V710.9M1084.3 742.4V709.0M1097.4 742.4V720.9M1118.7 742.4V710.7M1146.7 745.2V710.4M1162.5 742.4V696.6M1173.1 722.7V710.4M1191.8 725.0V713.9M1210.5 742.4V731.5M1224.1 762.2V743.1M1249.4 742.4V722.7M1269.4 722.7V700.3M1280.7 742.4V716.5M1286.4 742.4V718.5M1315.2 742.4V721.1M1322.1 742.4V724.7M1335.2 722.7V705.4M1339.6 722.7V712.8M1347.8 762.2V728.4M1365.9 722.7V703.6M1379.1 722.7V706.6M1391.0 742.4V719.7M1402.9 742.4V708.9M1411.7 742.4V722.7M1423.6 762.2V733.1M1441.9 762.2V741.3M1465.1 742.4V725.8M1475.7 722.7V694.4M1482.6 722.7V710.8M1492.0 742.4V730.8M1510.8 722.7V703.6M1517.1 742.4V716.0M1525.9 742.4V729.0M1540.0 762.2V725.5M1570.4 722.7V702.9M1575.4 722.7V702.9M1583.5 742.4V712.8M1594.8 742.4V712.8M1613.6 742.4V708.3M1625.5 722.7V697.9M1631.9 722.7V706.0M1643.0 762.2V725.7M1665.8 722.7V706.1M1675.0 762.2V740.5M1696.2 722.7V705.1M1702.4 722.7V698.7M1723.1 722.7V696.6M1737.0 762.2V728.4M1764.6 722.7V711.1M1778.7 722.7V708.0M1787.4 742.4V722.0M1796.4 722.7V703.7M1814.9 722.7V696.2M1830.8 722.7V692.2M1839.5 742.4V713.0M1844.6 744.9V705.3M1856.4 724.4V703.7M1890.2 722.7V701.8M1904.1 742.4V715.3M1911.0 742.4V712.8M1924.8 742.4V719.0M1938.6 722.7V711.7M1956.6 742.4V724.7M1965.6 742.4V704.0M1981.5 724.4V685.9M2009.8 727.0V710.0" fill="none" stroke="#000000" stroke-width="6.2" stroke-linecap="round"/>
</g>
<g font-family="'Liberation Sans', sans-serif" font-size="60.6" fill="#262626">
<text transform="translate(184.0,1056.6) scale(0.912,1)" text-anchor="middle">0</text>
<text transform="translate(412.6,1056.6) scale(0.912,1)" text-anchor="middle">100</text>
<text transform="translate(641.2,1056.6) scale(0.912,1)" text-anchor="middle">200</text>
<text transform="translate(869.9,1056.6) scale(0.912,1)" text-anchor="middle">300</text>
<text transform="translate(1098.5,1056.6) scale(0.912,1)" text-anchor="middle">400</text>
<text transform="translate(1327.1,1056.6) scale(0.912,1)" text-anchor="middle">500</text>
<text transform="translate(1555.8,1056.6) scale(0.912,1)" text-anchor="middle">600</text>
<text transform="translate(1784.4,1056.6) scale(0.912,1)" text-anchor="middle">700</text>
<text transform="translate(2013.0,1056.6) scale(0.912,1)" text-anchor="middle">800</text>
<text transform="translate(168.3,882.6) scale(0.912,1)" text-anchor="end">0</text>
<text transform="translate(168.3,681.6) scale(0.912,1)" text-anchor="end">5</text>
<text transform="translate(168.3,480.7) scale(0.912,1)" text-anchor="end">10</text>
<text transform="translate(168.3,279.7) scale(0.912,1)" text-anchor="end">15</text>
<text transform="translate(168.3,78.7) scale(0.912,1)" text-anchor="end">20</text>
</g>
<g>
<text x="989.2" y="1125.7" font-family="'Liberation Serif', serif" font-style="italic" font-size="64" fill="#262626" stroke="#262626" stroke-width="0.7" textLength="126.6" lengthAdjust="spacingAndGlyphs">time</text>
<text x="1136.2" y="1125.7" font-family="'Liberation Serif', serif" font-style="normal" font-size="72.2" fill="#262626" stroke="#262626" stroke-width="0.3" textLength="18.7" lengthAdjust="spacingAndGlyphs">(</text>
<text x="1158.0" y="1125.7" font-family="'Liberation Serif', serif" font-style="italic" font-size="64" fill="#262626" stroke="#262626" stroke-width="0.7" textLength="26.2" lengthAdjust="spacingAndGlyphs">s</text>
<text x="1186.3" y="1125.7" font-family="'Liberation Serif', serif" font-style="normal" font-size="72.2" fill="#262626" stroke="#262626" stroke-width="0.3" textLength="18.7" lengthAdjust="spacingAndGlyphs">)</text>
</g>
<g transform="translate(79,603.7) rotate(-90)">
<text x="0.5" y="0.0" font-family="'Liberation Serif', serif" font-style="italic" font-size="62" fill="#262626" stroke="#262626" stroke-width="0.7" textLength="31.5" lengthAdjust="spacingAndGlyphs">x</text>
<text x="33.5" y="8.8" font-family="'Liberation Serif', serif" font-style="normal" font-size="45" fill="#262626" stroke="#262626" stroke-width="0.3">1</text>
<text x="80.9" y="0.0" font-family="'Liberation Serif', serif" font-style="normal" font-size="70" fill="#262626" stroke="#262626" stroke-width="0.3" textLength="21.0" lengthAdjust="spacingAndGlyphs">(</text>
<text x="107.9" y="0.0" font-family="'Liberation Serif', serif" font-style="italic" font-size="68" fill="#262626" stroke="#262626" stroke-width="0.7" textLength="46.0" lengthAdjust="spacingAndGlyphs">A</text>
<text x="149.5" y="0.0" font-family="'Liberation Serif', serif" font-style="normal" font-size="70" fill="#262626" stroke="#262626" stroke-width="0.3" textLength="21.0" lengthAdjust="spacingAndGlyphs">)</text>
</g>
<rect x="1530.4" y="78.8" width="461.6" height="186.6" fill="#ffffff" stroke="#262626" stroke-width="2.4"/>
<line x1="1535.6" y1="110.9" x2="1606.9" y2="110.9" stroke="#0072BD" stroke-width="6.2"/>
<line x1="1535.6" y1="170.7" x2="1606.9" y2="170.7" stroke="#FF0000" stroke-width="6.2"/>
<line x1="1535.6" y1="230.5" x2="1606.9" y2="230.5" stroke="#000000" stroke-width="6.2"/>
<g>
<text x="1611.5" y="123.5" font-family="'Liberation Serif', serif" font-style="italic" font-size="49.3" fill="#000000" stroke="#000000" stroke-width="0.7" textLength="314.5" lengthAdjust="spacingAndGlyphs">measured state</text>
<text x="1940.9" y="123.5" font-family="'Liberation Serif', serif" font-style="italic" font-size="49.3" fill="#000000" stroke="#000000" stroke-width="0.7" textLength="23.7" lengthAdjust="spacingAndGlyphs">x</text>
<text x="1964.3" y="130.8" font-family="'Liberation Serif', serif" font-style="normal" font-size="36.2" fill="#000000" stroke="#000000" stroke-width="0.3">1</text>
<text x="1611.0" y="182.3" font-family="'Liberation Serif', serif" font-style="italic" font-size="49.3" fill="#000000" stroke="#000000" stroke-width="0.7" textLength="248.0" lengthAdjust="spacingAndGlyphs">lower bound</text>
<text x="1873.7" y="182.3" font-family="'Liberation Serif', serif" font-style="italic" font-size="49.3" fill="#000000" stroke="#000000" stroke-width="0.7" textLength="23.3" lengthAdjust="spacingAndGlyphs">x</text>
<text x="1880.4" y="175.0" font-family="'Liberation Serif', serif" font-style="normal" font-size="38" fill="#000000" stroke="#000000" stroke-width="0.3">ˆ</text>
<line x1="1870.8" y1="189.5" x2="1898.8" y2="189.5" stroke="#000000" stroke-width="2.5"/>
<text x="1897.4" y="193.8" font-family="'Liberation Serif', serif" font-style="normal" font-size="36.2" fill="#000000" stroke="#000000" stroke-width="0.3">1</text>
<text x="1611.0" y="244.4" font-family="'Liberation Serif', serif" font-style="italic" font-size="49.3" fill="#000000" stroke="#000000" stroke-width="0.7" textLength="248.0" lengthAdjust="spacingAndGlyphs">upper bound</text>
<text x="1874.9" y="244.4" font-family="'Liberation Serif', serif" font-style="italic" font-size="49.3" fill="#000000" stroke="#000000" stroke-width="0.7" textLength="23.0" lengthAdjust="spacingAndGlyphs">x</text>
<text x="1881.5" y="236.9" font-family="'Liberation Serif', serif" font-style="normal" font-size="38" fill="#000000" stroke="#000000" stroke-width="0.3">ˆ</text>
<line x1="1873.1" y1="203.3" x2="1899.9" y2="203.3" stroke="#000000" stroke-width="2.5"/>
<text x="1899.0" y="251.8" font-family="'Liberation Serif', serif" font-style="normal" font-size="36.2" fill="#000000" stroke="#000000" stroke-width="0.3">1</text>
</g>
</svg>
</body></html>
